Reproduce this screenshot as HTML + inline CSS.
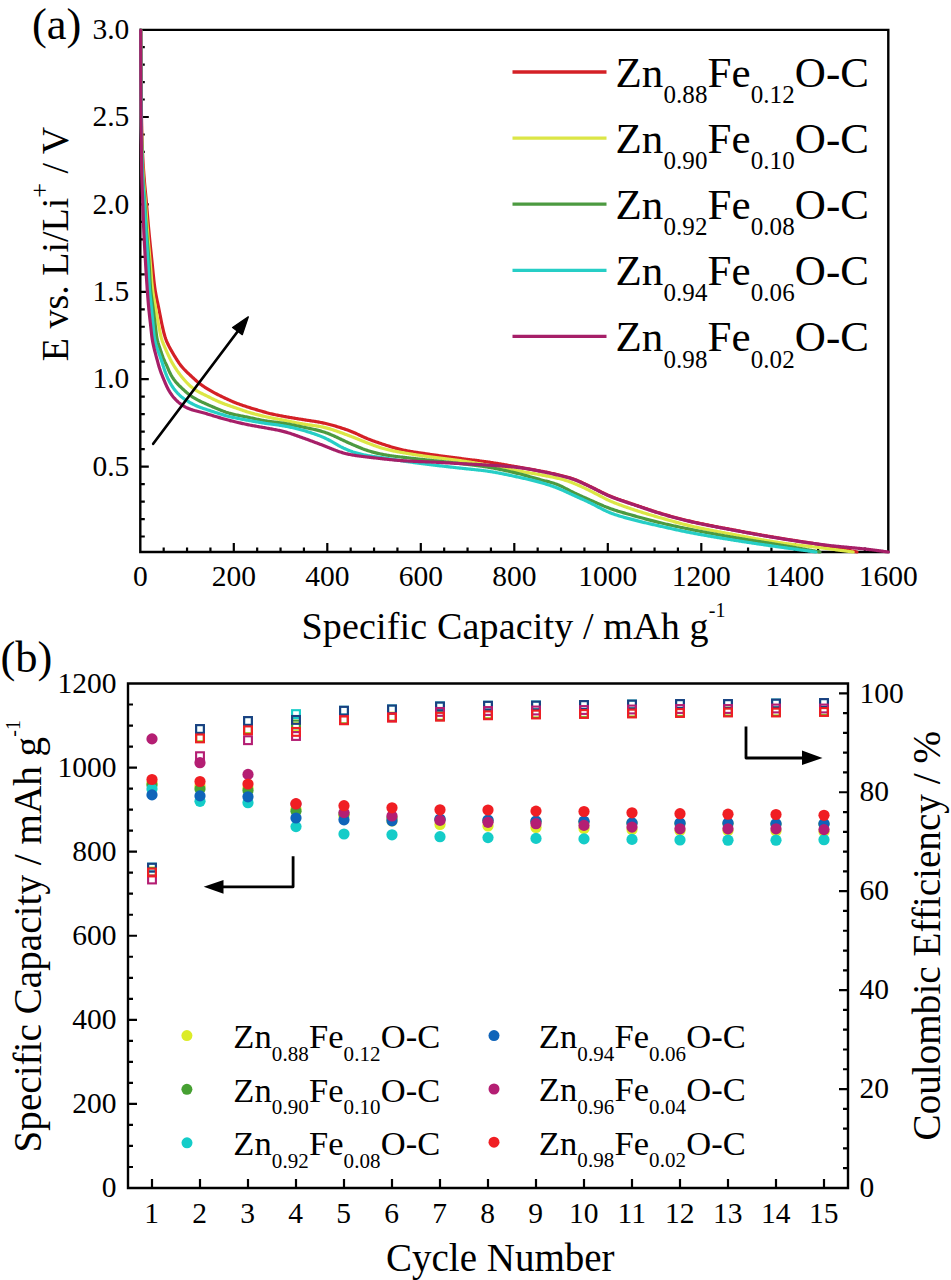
<!DOCTYPE html><html><head><meta charset="utf-8"><title>Figure</title><style>
html,body{margin:0;padding:0;background:#fff;}body{width:951px;height:1280px;overflow:hidden;}
svg{display:block;} text{font-family:"Liberation Serif", serif;fill:#000;}
</style></head><body>
<svg width="951" height="1280" viewBox="0 0 951 1280">
<rect width="951" height="1280" fill="#fff"/>
<path d="M140.3,29.9 H888.3 V552.0 H140.3 Z" stroke="#000" stroke-width="2.4" fill="none"/>
<path d="M140.3,536.52 h4.5 M140.3,519.04 h4.5 M140.3,501.56 h4.5 M140.3,484.08 h4.5 M140.3,466.60 h8.5 M140.3,449.12 h4.5 M140.3,431.64 h4.5 M140.3,414.16 h4.5 M140.3,396.68 h4.5 M140.3,379.20 h8.5 M140.3,361.72 h4.5 M140.3,344.24 h4.5 M140.3,326.76 h4.5 M140.3,309.28 h4.5 M140.3,291.80 h8.5 M140.3,274.32 h4.5 M140.3,256.84 h4.5 M140.3,239.36 h4.5 M140.3,221.88 h4.5 M140.3,204.40 h8.5 M140.3,186.92 h4.5 M140.3,169.44 h4.5 M140.3,151.96 h4.5 M140.3,134.48 h4.5 M140.3,117.00 h8.5 M140.3,99.52 h4.5 M140.3,82.04 h4.5 M140.3,64.56 h4.5 M140.3,47.08 h4.5 M163.68,552.0 v-4.5 M187.05,552.0 v-4.5 M210.43,552.0 v-4.5 M233.80,552.0 v-9.0 M257.18,552.0 v-4.5 M280.55,552.0 v-4.5 M303.93,552.0 v-4.5 M327.30,552.0 v-9.0 M350.68,552.0 v-4.5 M374.05,552.0 v-4.5 M397.43,552.0 v-4.5 M420.80,552.0 v-9.0 M444.18,552.0 v-4.5 M467.55,552.0 v-4.5 M490.93,552.0 v-4.5 M514.30,552.0 v-9.0 M537.67,552.0 v-4.5 M561.05,552.0 v-4.5 M584.42,552.0 v-4.5 M607.80,552.0 v-9.0 M631.17,552.0 v-4.5 M654.55,552.0 v-4.5 M677.92,552.0 v-4.5 M701.30,552.0 v-9.0 M724.67,552.0 v-4.5 M748.05,552.0 v-4.5 M771.42,552.0 v-4.5 M794.80,552.0 v-9.0 M818.17,552.0 v-4.5 M841.55,552.0 v-4.5 M864.92,552.0 v-4.5" stroke="#000" stroke-width="2.2" fill="none"/>
<path d="M140.70,30.00 L140.71,31.00 L140.71,32.00 L140.72,33.00 L140.73,34.00 L140.73,35.00 L140.74,36.00 L140.74,37.00 L140.75,38.00 L140.76,39.00 L140.76,40.00 L140.77,41.00 L140.77,42.00 L140.78,43.00 L140.78,44.00 L140.79,45.00 L140.79,46.00 L140.80,47.00 L140.80,48.00 L140.81,49.00 L140.81,50.00 L140.82,51.00 L140.82,52.00 L140.83,53.00 L140.83,54.00 L140.84,55.00 L140.84,56.00 L140.85,57.00 L140.85,58.00 L140.86,59.00 L140.86,60.00 L140.87,61.01 L140.87,62.01 L140.88,63.01 L140.88,64.01 L140.89,65.01 L140.89,66.01 L140.90,67.01 L140.90,68.01 L140.91,69.01 L140.91,70.01 L140.92,71.01 L140.92,72.01 L140.93,73.01 L140.94,74.01 L140.94,75.01 L140.95,76.01 L140.96,77.01 L140.96,78.01 L140.97,79.01 L140.98,80.01 L140.99,81.01 L140.99,82.01 L141.00,83.01 L141.01,84.01 L141.02,85.01 L141.03,86.01 L141.04,87.01 L141.05,88.01 L141.06,89.01 L141.07,90.01 L141.08,91.01 L141.09,92.01 L141.11,93.01 L141.12,94.01 L141.13,95.01 L141.14,96.01 L141.16,97.01 L141.17,98.01 L141.19,99.01 L141.20,100.01 L141.22,101.01 L141.23,102.01 L141.25,103.01 L141.26,104.01 L141.28,105.01 L141.29,106.01 L141.31,107.01 L141.33,108.01 L141.34,109.01 L141.36,110.01 L141.38,111.01 L141.40,112.01 L141.41,113.01 L141.43,114.01 L141.45,115.01 L141.47,116.01 L141.49,117.01 L141.51,118.01 L141.52,119.01 L141.54,120.01 L141.56,121.01 L141.58,122.01 L141.60,123.01 L141.62,124.01 L141.64,125.01 L141.67,126.01 L141.69,127.01 L141.71,128.01 L141.73,129.01 L141.76,130.01 L141.78,131.01 L141.81,132.01 L141.83,133.01 L141.86,134.01 L141.88,135.01 L141.91,136.01 L141.94,137.01 L141.97,138.01 L142.00,139.01 L142.03,140.01 L142.07,141.01 L142.10,142.01 L142.13,143.01 L142.17,144.01 L142.21,145.01 L142.25,146.01 L142.29,147.00 L142.33,148.00 L142.37,149.00 L142.41,150.00 L142.45,151.00 L142.50,152.00 L142.55,153.00 L142.59,154.00 L142.64,155.00 L142.70,156.00 L142.75,157.00 L142.80,157.99 L142.86,158.99 L142.91,159.99 L142.97,160.99 L143.03,161.99 L143.09,162.99 L143.16,163.98 L143.22,164.98 L143.28,165.98 L143.35,166.98 L143.42,167.98 L143.48,168.97 L143.55,169.97 L143.62,170.97 L143.70,171.97 L143.77,172.97 L143.84,173.96 L143.92,174.96 L143.99,175.96 L144.07,176.95 L144.15,177.95 L144.23,178.95 L144.31,179.95 L144.39,180.94 L144.47,181.94 L144.56,182.94 L144.65,183.93 L144.74,184.93 L144.83,185.92 L144.93,186.92 L145.02,187.92 L145.12,188.91 L145.22,189.91 L145.31,190.90 L145.41,191.90 L145.51,192.89 L145.61,193.89 L145.71,194.88 L145.80,195.88 L145.90,196.87 L145.99,197.87 L146.09,198.87 L146.18,199.86 L146.27,200.86 L146.36,201.85 L146.45,202.85 L146.53,203.85 L146.62,204.84 L146.71,205.84 L146.79,206.84 L146.88,207.83 L146.96,208.83 L147.04,209.83 L147.13,210.82 L147.21,211.82 L147.29,212.82 L147.38,213.81 L147.46,214.81 L147.55,215.81 L147.63,216.80 L147.71,217.80 L147.80,218.80 L147.88,219.79 L147.97,220.79 L148.05,221.78 L148.14,222.78 L148.23,223.78 L148.31,224.77 L148.40,225.77 L148.49,226.77 L148.58,227.76 L148.67,228.76 L148.76,229.75 L148.86,230.75 L148.95,231.75 L149.04,232.74 L149.14,233.74 L149.23,234.73 L149.33,235.73 L149.43,236.72 L149.52,237.72 L149.62,238.72 L149.72,239.71 L149.82,240.71 L149.92,241.70 L150.03,242.70 L150.13,243.69 L150.23,244.69 L150.33,245.68 L150.44,246.68 L150.54,247.67 L150.64,248.66 L150.75,249.66 L150.85,250.65 L150.95,251.65 L151.06,252.64 L151.16,253.64 L151.27,254.63 L151.37,255.63 L151.48,256.62 L151.58,257.62 L151.69,258.61 L151.79,259.61 L151.90,260.60 L152.00,261.60 L152.10,262.59 L152.20,263.59 L152.31,264.58 L152.41,265.58 L152.51,266.57 L152.60,267.57 L152.70,268.56 L152.80,269.56 L152.90,270.55 L152.99,271.55 L153.09,272.54 L153.19,273.54 L153.29,274.53 L153.39,275.53 L153.49,276.52 L153.59,277.52 L153.69,278.51 L153.80,279.51 L153.90,280.50 L154.02,281.50 L154.13,282.49 L154.25,283.48 L154.37,284.48 L154.50,285.47 L154.63,286.46 L154.77,287.45 L154.91,288.44 L155.06,289.43 L155.21,290.42 L155.37,291.40 L155.54,292.39 L155.71,293.37 L155.89,294.36 L156.07,295.34 L156.26,296.32 L156.46,297.30 L156.66,298.28 L156.86,299.26 L157.06,300.24 L157.27,301.22 L157.48,302.20 L157.69,303.18 L157.89,304.16 L158.10,305.13 L158.31,306.11 L158.51,307.09 L158.71,308.07 L158.91,309.05 L159.11,310.03 L159.30,311.01 L159.49,312.00 L159.68,312.98 L159.87,313.96 L160.06,314.94 L160.25,315.92 L160.44,316.91 L160.63,317.89 L160.82,318.87 L161.01,319.85 L161.21,320.83 L161.41,321.81 L161.61,322.79 L161.81,323.77 L162.02,324.75 L162.24,325.73 L162.45,326.70 L162.67,327.68 L162.90,328.65 L163.12,329.63 L163.36,330.60 L163.59,331.57 L163.84,332.54 L164.09,333.51 L164.35,334.47 L164.62,335.43 L164.90,336.39 L165.20,337.34 L165.52,338.29 L165.85,339.23 L166.21,340.16 L166.58,341.09 L166.97,342.01 L167.37,342.92 L167.79,343.83 L168.23,344.72 L168.68,345.62 L169.13,346.51 L169.60,347.39 L170.08,348.27 L170.56,349.15 L171.04,350.02 L171.53,350.89 L172.03,351.76 L172.53,352.63 L173.03,353.49 L173.54,354.35 L174.06,355.21 L174.58,356.06 L175.10,356.92 L175.62,357.77 L176.15,358.62 L176.68,359.46 L177.22,360.31 L177.76,361.15 L178.31,361.98 L178.86,362.81 L179.43,363.63 L180.01,364.44 L180.61,365.24 L181.23,366.03 L181.86,366.80 L182.51,367.56 L183.17,368.30 L183.85,369.03 L184.54,369.76 L185.24,370.47 L185.94,371.17 L186.66,371.87 L187.38,372.56 L188.11,373.25 L188.84,373.93 L189.57,374.61 L190.31,375.29 L191.04,375.97 L191.78,376.65 L192.51,377.33 L193.24,378.01 L193.98,378.69 L194.71,379.36 L195.45,380.04 L196.20,380.70 L196.95,381.36 L197.71,382.01 L198.47,382.65 L199.25,383.28 L200.04,383.89 L200.84,384.48 L201.65,385.07 L202.47,385.64 L203.29,386.21 L204.13,386.76 L204.96,387.31 L205.80,387.85 L206.65,388.38 L207.50,388.91 L208.35,389.43 L209.21,389.94 L210.07,390.45 L210.94,390.95 L211.81,391.44 L212.68,391.92 L213.56,392.39 L214.45,392.86 L215.33,393.33 L216.22,393.79 L217.11,394.25 L218.00,394.70 L218.89,395.15 L219.79,395.60 L220.68,396.04 L221.58,396.48 L222.48,396.92 L223.38,397.36 L224.28,397.79 L225.18,398.22 L226.09,398.65 L226.99,399.07 L227.90,399.49 L228.81,399.91 L229.72,400.32 L230.64,400.73 L231.55,401.13 L232.47,401.52 L233.39,401.91 L234.32,402.29 L235.25,402.66 L236.18,403.03 L237.11,403.39 L238.05,403.74 L238.98,404.08 L239.93,404.42 L240.87,404.75 L241.81,405.08 L242.76,405.40 L243.71,405.72 L244.66,406.03 L245.61,406.34 L246.56,406.65 L247.51,406.96 L248.46,407.26 L249.42,407.57 L250.37,407.86 L251.33,408.16 L252.28,408.45 L253.24,408.75 L254.20,409.03 L255.16,409.32 L256.11,409.61 L257.07,409.89 L258.03,410.18 L258.99,410.46 L259.95,410.74 L260.91,411.03 L261.87,411.31 L262.83,411.59 L263.79,411.87 L264.75,412.14 L265.71,412.41 L266.68,412.68 L267.64,412.94 L268.61,413.19 L269.58,413.44 L270.55,413.68 L271.52,413.91 L272.50,414.13 L273.47,414.35 L274.45,414.56 L275.43,414.76 L276.41,414.96 L277.39,415.16 L278.37,415.35 L279.35,415.54 L280.34,415.73 L281.32,415.91 L282.30,416.09 L283.29,416.28 L284.27,416.46 L285.25,416.63 L286.24,416.81 L287.22,416.98 L288.21,417.15 L289.20,417.32 L290.18,417.49 L291.17,417.66 L292.15,417.82 L293.14,417.99 L294.13,418.15 L295.11,418.31 L296.10,418.48 L297.09,418.64 L298.07,418.80 L299.06,418.96 L300.05,419.13 L301.04,419.29 L302.02,419.45 L303.01,419.61 L304.00,419.76 L304.99,419.92 L305.97,420.07 L306.96,420.22 L307.95,420.37 L308.94,420.52 L309.93,420.67 L310.92,420.81 L311.91,420.96 L312.90,421.11 L313.89,421.27 L314.87,421.42 L315.86,421.58 L316.85,421.74 L317.83,421.91 L318.82,422.09 L319.80,422.27 L320.78,422.46 L321.76,422.65 L322.74,422.85 L323.72,423.07 L324.70,423.28 L325.67,423.51 L326.64,423.74 L327.61,423.98 L328.58,424.23 L329.55,424.48 L330.52,424.73 L331.48,424.99 L332.45,425.26 L333.41,425.53 L334.37,425.80 L335.33,426.08 L336.29,426.37 L337.25,426.66 L338.20,426.95 L339.16,427.25 L340.11,427.55 L341.06,427.85 L342.02,428.16 L342.97,428.47 L343.91,428.79 L344.86,429.11 L345.81,429.44 L346.75,429.77 L347.69,430.11 L348.63,430.45 L349.56,430.81 L350.50,431.17 L351.43,431.53 L352.35,431.91 L353.28,432.29 L354.19,432.69 L355.11,433.09 L356.02,433.50 L356.93,433.92 L357.84,434.34 L358.74,434.77 L359.65,435.19 L360.55,435.62 L361.45,436.04 L362.36,436.47 L363.27,436.88 L364.18,437.29 L365.10,437.70 L366.01,438.09 L366.94,438.48 L367.86,438.86 L368.79,439.23 L369.72,439.60 L370.65,439.96 L371.59,440.31 L372.53,440.65 L373.47,440.99 L374.41,441.33 L375.35,441.66 L376.30,441.99 L377.24,442.32 L378.19,442.64 L379.14,442.96 L380.09,443.27 L381.04,443.59 L381.98,443.90 L382.93,444.22 L383.89,444.53 L384.84,444.84 L385.79,445.15 L386.74,445.46 L387.69,445.77 L388.64,446.07 L389.59,446.38 L390.55,446.68 L391.50,446.97 L392.46,447.27 L393.42,447.55 L394.38,447.84 L395.34,448.11 L396.30,448.38 L397.27,448.64 L398.23,448.89 L399.20,449.14 L400.17,449.37 L401.15,449.60 L402.12,449.82 L403.10,450.03 L404.08,450.24 L405.06,450.43 L406.04,450.63 L407.02,450.81 L408.01,450.99 L408.99,451.16 L409.98,451.33 L410.96,451.50 L411.95,451.66 L412.94,451.82 L413.93,451.97 L414.91,452.12 L415.90,452.27 L416.89,452.42 L417.88,452.57 L418.87,452.72 L419.86,452.86 L420.85,453.01 L421.84,453.15 L422.83,453.30 L423.82,453.45 L424.81,453.59 L425.80,453.74 L426.79,453.88 L427.78,454.03 L428.77,454.17 L429.76,454.32 L430.75,454.46 L431.74,454.60 L432.73,454.74 L433.72,454.88 L434.71,455.02 L435.70,455.16 L436.69,455.30 L437.68,455.44 L438.67,455.57 L439.66,455.71 L440.65,455.84 L441.64,455.97 L442.63,456.11 L443.63,456.24 L444.62,456.37 L445.61,456.50 L446.60,456.63 L447.59,456.76 L448.58,456.89 L449.58,457.03 L450.57,457.16 L451.56,457.29 L452.55,457.42 L453.54,457.55 L454.53,457.68 L455.52,457.81 L456.52,457.94 L457.51,458.07 L458.50,458.20 L459.49,458.33 L460.48,458.46 L461.47,458.59 L462.47,458.72 L463.46,458.85 L464.45,458.97 L465.44,459.10 L466.44,459.22 L467.43,459.35 L468.42,459.47 L469.41,459.60 L470.41,459.72 L471.40,459.84 L472.39,459.97 L473.38,460.09 L474.38,460.21 L475.37,460.34 L476.36,460.46 L477.35,460.59 L478.34,460.71 L479.34,460.84 L480.33,460.97 L481.32,461.10 L482.31,461.23 L483.30,461.36 L484.29,461.50 L485.28,461.64 L486.28,461.77 L487.27,461.91 L488.26,462.06 L489.24,462.20 L490.23,462.35 L491.22,462.50 L492.21,462.65 L493.20,462.81 L494.19,462.96 L495.18,463.12 L496.16,463.28 L497.15,463.44 L498.14,463.60 L499.12,463.77 L500.11,463.93 L501.10,464.10 L502.08,464.27 L503.07,464.44 L504.05,464.61 L505.04,464.78 L506.02,464.95 L507.01,465.12 L507.99,465.29 L508.98,465.46 L509.96,465.64 L510.95,465.81 L511.93,465.98 L512.92,466.16 L513.90,466.33 L514.89,466.50 L515.88,466.68 L516.86,466.85 L517.85,467.02 L518.83,467.19 L519.82,467.36 L520.80,467.53 L521.79,467.70 L522.77,467.87 L523.76,468.04 L524.75,468.21 L525.73,468.38 L526.72,468.54 L527.70,468.71 L528.69,468.88 L529.68,469.05 L530.66,469.22 L531.65,469.39 L532.63,469.56 L533.62,469.74 L534.60,469.91 L535.59,470.09 L536.57,470.27 L537.55,470.45 L538.54,470.64 L539.52,470.82 L540.50,471.01 L541.48,471.20 L542.46,471.40 L543.44,471.59 L544.42,471.79 L545.40,471.99 L546.38,472.19 L547.36,472.40 L548.34,472.60 L549.32,472.81 L550.30,473.03 L551.27,473.24 L552.25,473.46 L553.22,473.68 L554.20,473.90 L555.17,474.13 L556.15,474.36 L557.12,474.58 L558.10,474.81 L559.07,475.04 L560.04,475.28 L561.01,475.51 L561.99,475.74 L562.96,475.98 L563.93,476.22 L564.90,476.47 L565.86,476.72 L566.83,476.98 L567.79,477.25 L568.75,477.53 L569.71,477.81 L570.67,478.10 L571.62,478.41 L572.57,478.73 L573.51,479.06 L574.45,479.40 L575.38,479.75 L576.31,480.11 L577.24,480.49 L578.16,480.87 L579.08,481.26 L580.00,481.67 L580.91,482.07 L581.82,482.49 L582.73,482.91 L583.63,483.33 L584.54,483.76 L585.44,484.19 L586.35,484.62 L587.25,485.05 L588.15,485.48 L589.05,485.91 L589.95,486.35 L590.85,486.78 L591.75,487.22 L592.65,487.66 L593.55,488.11 L594.44,488.55 L595.34,489.00 L596.23,489.45 L597.12,489.90 L598.01,490.35 L598.91,490.80 L599.80,491.25 L600.69,491.70 L601.59,492.15 L602.48,492.59 L603.38,493.03 L604.28,493.47 L605.19,493.90 L606.09,494.32 L607.00,494.73 L607.91,495.14 L608.83,495.54 L609.75,495.94 L610.67,496.32 L611.60,496.70 L612.53,497.07 L613.46,497.43 L614.39,497.79 L615.33,498.14 L616.27,498.49 L617.21,498.83 L618.15,499.17 L619.09,499.50 L620.04,499.83 L620.98,500.15 L621.93,500.48 L622.87,500.80 L623.82,501.12 L624.77,501.43 L625.72,501.75 L626.67,502.06 L627.62,502.38 L628.57,502.69 L629.52,503.01 L630.47,503.32 L631.41,503.64 L632.36,503.96 L633.31,504.28 L634.26,504.59 L635.21,504.91 L636.15,505.23 L637.10,505.56 L638.05,505.88 L638.99,506.20 L639.94,506.53 L640.89,506.85 L641.83,507.18 L642.78,507.50 L643.73,507.83 L644.67,508.15 L645.62,508.47 L646.57,508.79 L647.51,509.11 L648.46,509.43 L649.41,509.75 L650.36,510.07 L651.31,510.38 L652.26,510.69 L653.21,511.00 L654.16,511.31 L655.11,511.61 L656.07,511.92 L657.02,512.22 L657.98,512.51 L658.93,512.81 L659.89,513.10 L660.85,513.39 L661.80,513.68 L662.76,513.96 L663.72,514.25 L664.68,514.53 L665.64,514.81 L666.60,515.08 L667.56,515.36 L668.53,515.63 L669.49,515.91 L670.45,516.18 L671.41,516.44 L672.38,516.71 L673.34,516.97 L674.31,517.24 L675.27,517.50 L676.24,517.75 L677.21,518.01 L678.17,518.26 L679.14,518.51 L680.11,518.76 L681.08,519.01 L682.05,519.26 L683.02,519.50 L683.99,519.74 L684.96,519.98 L685.93,520.22 L686.91,520.45 L687.88,520.69 L688.85,520.92 L689.83,521.14 L690.80,521.37 L691.77,521.59 L692.75,521.82 L693.73,522.04 L694.70,522.25 L695.68,522.47 L696.66,522.68 L697.63,522.89 L698.61,523.10 L699.59,523.31 L700.57,523.51 L701.55,523.72 L702.53,523.92 L703.51,524.12 L704.49,524.32 L705.47,524.52 L706.45,524.72 L707.43,524.91 L708.41,525.11 L709.39,525.30 L710.37,525.50 L711.35,525.69 L712.33,525.88 L713.32,526.07 L714.30,526.26 L715.28,526.45 L716.26,526.64 L717.25,526.83 L718.23,527.01 L719.21,527.20 L720.19,527.39 L721.18,527.57 L722.16,527.76 L723.14,527.95 L724.12,528.13 L725.11,528.32 L726.09,528.50 L727.07,528.69 L728.05,528.87 L729.04,529.06 L730.02,529.25 L731.00,529.43 L731.99,529.62 L732.97,529.80 L733.95,529.99 L734.93,530.18 L735.92,530.36 L736.90,530.55 L737.88,530.73 L738.87,530.92 L739.85,531.10 L740.83,531.28 L741.82,531.47 L742.80,531.65 L743.78,531.83 L744.77,532.01 L745.75,532.20 L746.73,532.38 L747.72,532.56 L748.70,532.74 L749.68,532.92 L750.67,533.10 L751.65,533.28 L752.64,533.45 L753.62,533.63 L754.60,533.81 L755.59,533.99 L756.57,534.16 L757.56,534.34 L758.54,534.51 L759.53,534.69 L760.51,534.86 L761.50,535.04 L762.48,535.21 L763.47,535.38 L764.45,535.56 L765.44,535.73 L766.42,535.90 L767.41,536.07 L768.39,536.24 L769.38,536.42 L770.36,536.59 L771.35,536.76 L772.34,536.93 L773.32,537.10 L774.31,537.27 L775.29,537.43 L776.28,537.60 L777.27,537.77 L778.25,537.93 L779.24,538.10 L780.22,538.26 L781.21,538.43 L782.20,538.59 L783.19,538.75 L784.17,538.91 L785.16,539.06 L786.15,539.22 L787.14,539.38 L788.12,539.53 L789.11,539.69 L790.10,539.84 L791.09,539.99 L792.08,540.15 L793.07,540.30 L794.06,540.45 L795.04,540.60 L796.03,540.75 L797.02,540.90 L798.01,541.06 L799.00,541.21 L799.99,541.36 L800.98,541.51 L801.96,541.66 L802.95,541.81 L803.94,541.96 L804.93,542.11 L805.92,542.27 L806.91,542.42 L807.90,542.58 L808.88,542.73 L809.87,542.89 L810.86,543.04 L811.85,543.20 L812.83,543.36 L813.82,543.52 L814.81,543.69 L815.79,543.85 L816.78,544.02 L817.77,544.18 L818.75,544.35 L819.74,544.53 L820.72,544.70 L821.71,544.87 L822.69,545.05 L823.68,545.23 L824.66,545.41 L825.64,545.59 L826.63,545.78 L827.61,545.97 L828.59,546.15 L829.57,546.35 L830.55,546.54 L831.54,546.73 L832.52,546.93 L833.50,547.12 L834.48,547.32 L835.46,547.52 L836.44,547.72 L837.42,547.92 L838.40,548.12 L839.38,548.33 L840.35,548.53 L841.33,548.73 L842.31,548.94 L843.29,549.14 L844.27,549.35 L845.25,549.55 L846.23,549.76 L847.21,549.96 L848.19,550.17 L849.17,550.37 L850.14,550.58 L851.12,550.78 L852.10,550.99 L853.08,551.19 L854.06,551.39 L855.04,551.60 L856.02,551.80 L857.00,552.00" fill="none" stroke="#D42026" stroke-width="3.2" stroke-linejoin="round" stroke-linecap="round"/>
<path d="M140.70,30.00 L140.71,31.00 L140.71,32.00 L140.72,33.00 L140.72,34.00 L140.73,35.00 L140.73,36.00 L140.74,37.00 L140.74,38.00 L140.75,39.01 L140.75,40.01 L140.75,41.01 L140.76,42.01 L140.76,43.01 L140.77,44.01 L140.77,45.01 L140.77,46.01 L140.78,47.01 L140.78,48.01 L140.79,49.01 L140.79,50.01 L140.80,51.01 L140.80,52.01 L140.80,53.01 L140.81,54.01 L140.81,55.02 L140.82,56.02 L140.82,57.02 L140.82,58.02 L140.83,59.02 L140.83,60.02 L140.83,61.02 L140.84,62.02 L140.84,63.02 L140.85,64.02 L140.85,65.02 L140.85,66.02 L140.86,67.02 L140.86,68.02 L140.87,69.02 L140.87,70.02 L140.88,71.03 L140.88,72.03 L140.89,73.03 L140.89,74.03 L140.90,75.03 L140.90,76.03 L140.91,77.03 L140.92,78.03 L140.92,79.03 L140.93,80.03 L140.93,81.03 L140.94,82.03 L140.95,83.03 L140.96,84.03 L140.96,85.03 L140.97,86.03 L140.98,87.04 L140.99,88.04 L140.99,89.04 L141.00,90.04 L141.01,91.04 L141.02,92.04 L141.03,93.04 L141.04,94.04 L141.05,95.04 L141.06,96.04 L141.07,97.04 L141.08,98.04 L141.09,99.04 L141.10,100.04 L141.11,101.04 L141.12,102.04 L141.14,103.04 L141.15,104.05 L141.16,105.05 L141.17,106.05 L141.18,107.05 L141.20,108.05 L141.21,109.05 L141.22,110.05 L141.23,111.05 L141.25,112.05 L141.26,113.05 L141.27,114.05 L141.28,115.05 L141.30,116.05 L141.31,117.05 L141.32,118.05 L141.34,119.05 L141.35,120.05 L141.37,121.05 L141.38,122.06 L141.40,123.06 L141.41,124.06 L141.43,125.06 L141.44,126.06 L141.46,127.06 L141.48,128.06 L141.49,129.06 L141.51,130.06 L141.53,131.06 L141.55,132.06 L141.57,133.06 L141.59,134.06 L141.61,135.06 L141.63,136.06 L141.65,137.06 L141.67,138.06 L141.70,139.06 L141.72,140.06 L141.75,141.06 L141.77,142.06 L141.80,143.06 L141.83,144.06 L141.85,145.06 L141.88,146.06 L141.91,147.07 L141.94,148.07 L141.98,149.07 L142.01,150.07 L142.04,151.07 L142.08,152.07 L142.11,153.07 L142.15,154.07 L142.19,155.07 L142.23,156.07 L142.27,157.06 L142.31,158.06 L142.35,159.06 L142.40,160.06 L142.44,161.06 L142.49,162.06 L142.53,163.06 L142.58,164.06 L142.63,165.06 L142.68,166.06 L142.73,167.06 L142.79,168.06 L142.84,169.06 L142.90,170.06 L142.95,171.06 L143.01,172.06 L143.07,173.05 L143.13,174.05 L143.19,175.05 L143.25,176.05 L143.31,177.05 L143.38,178.05 L143.45,179.05 L143.52,180.04 L143.59,181.04 L143.66,182.04 L143.74,183.04 L143.82,184.04 L143.90,185.03 L143.98,186.03 L144.06,187.03 L144.15,188.02 L144.24,189.02 L144.32,190.02 L144.41,191.01 L144.50,192.01 L144.59,193.01 L144.68,194.00 L144.77,195.00 L144.85,196.00 L144.94,197.00 L145.02,197.99 L145.11,198.99 L145.19,199.99 L145.27,200.98 L145.35,201.98 L145.42,202.98 L145.50,203.98 L145.58,204.97 L145.65,205.97 L145.73,206.97 L145.80,207.97 L145.87,208.97 L145.94,209.96 L146.02,210.96 L146.09,211.96 L146.16,212.96 L146.23,213.96 L146.30,214.95 L146.37,215.95 L146.45,216.95 L146.52,217.95 L146.59,218.95 L146.66,219.94 L146.74,220.94 L146.81,221.94 L146.88,222.94 L146.96,223.94 L147.03,224.93 L147.11,225.93 L147.18,226.93 L147.26,227.93 L147.34,228.92 L147.42,229.92 L147.50,230.92 L147.58,231.92 L147.66,232.91 L147.74,233.91 L147.83,234.91 L147.91,235.91 L147.99,236.90 L148.08,237.90 L148.16,238.90 L148.25,239.89 L148.34,240.89 L148.43,241.89 L148.51,242.88 L148.60,243.88 L148.69,244.88 L148.78,245.87 L148.86,246.87 L148.95,247.87 L149.04,248.87 L149.13,249.86 L149.22,250.86 L149.31,251.86 L149.40,252.85 L149.48,253.85 L149.57,254.85 L149.66,255.84 L149.75,256.84 L149.84,257.84 L149.92,258.83 L150.01,259.83 L150.09,260.83 L150.18,261.82 L150.26,262.82 L150.34,263.82 L150.42,264.82 L150.50,265.81 L150.58,266.81 L150.66,267.81 L150.74,268.81 L150.81,269.80 L150.89,270.80 L150.96,271.80 L151.04,272.80 L151.11,273.79 L151.19,274.79 L151.27,275.79 L151.34,276.79 L151.42,277.78 L151.50,278.78 L151.59,279.78 L151.67,280.78 L151.76,281.77 L151.85,282.77 L151.95,283.77 L152.04,284.76 L152.15,285.76 L152.25,286.75 L152.37,287.75 L152.48,288.74 L152.60,289.73 L152.73,290.72 L152.87,291.72 L153.01,292.71 L153.15,293.70 L153.30,294.68 L153.46,295.67 L153.62,296.66 L153.79,297.65 L153.95,298.63 L154.13,299.62 L154.30,300.60 L154.48,301.59 L154.66,302.57 L154.83,303.56 L155.01,304.54 L155.19,305.53 L155.37,306.51 L155.54,307.50 L155.72,308.48 L155.89,309.47 L156.06,310.45 L156.23,311.44 L156.40,312.43 L156.57,313.41 L156.74,314.40 L156.91,315.38 L157.08,316.37 L157.25,317.36 L157.43,318.34 L157.60,319.33 L157.77,320.31 L157.95,321.30 L158.13,322.28 L158.31,323.27 L158.49,324.25 L158.67,325.24 L158.85,326.22 L159.04,327.20 L159.22,328.19 L159.41,329.17 L159.60,330.15 L159.79,331.13 L159.98,332.11 L160.18,333.09 L160.39,334.07 L160.61,335.05 L160.84,336.02 L161.08,336.99 L161.33,337.96 L161.61,338.92 L161.90,339.87 L162.21,340.82 L162.54,341.76 L162.88,342.70 L163.24,343.63 L163.62,344.56 L164.00,345.48 L164.40,346.40 L164.80,347.32 L165.20,348.23 L165.61,349.15 L166.02,350.06 L166.43,350.97 L166.84,351.89 L167.25,352.80 L167.66,353.71 L168.08,354.62 L168.50,355.53 L168.92,356.43 L169.35,357.34 L169.79,358.23 L170.23,359.13 L170.69,360.02 L171.15,360.91 L171.63,361.79 L172.11,362.66 L172.61,363.53 L173.11,364.39 L173.63,365.25 L174.15,366.10 L174.69,366.94 L175.23,367.78 L175.78,368.62 L176.34,369.45 L176.90,370.28 L177.47,371.10 L178.05,371.91 L178.63,372.73 L179.22,373.53 L179.82,374.34 L180.43,375.13 L181.04,375.92 L181.66,376.71 L182.28,377.49 L182.92,378.26 L183.56,379.03 L184.20,379.79 L184.86,380.55 L185.53,381.29 L186.20,382.03 L186.89,382.76 L187.58,383.48 L188.29,384.18 L189.01,384.87 L189.74,385.55 L190.49,386.21 L191.25,386.86 L192.02,387.48 L192.81,388.09 L193.62,388.68 L194.43,389.26 L195.26,389.81 L196.10,390.36 L196.95,390.88 L197.81,391.39 L198.68,391.88 L199.55,392.36 L200.44,392.83 L201.33,393.28 L202.22,393.73 L203.12,394.17 L204.02,394.60 L204.92,395.03 L205.82,395.47 L206.72,395.91 L207.62,396.35 L208.51,396.80 L209.41,397.24 L210.30,397.69 L211.20,398.13 L212.10,398.57 L213.00,399.01 L213.90,399.44 L214.81,399.86 L215.71,400.28 L216.62,400.70 L217.54,401.11 L218.45,401.51 L219.37,401.91 L220.29,402.30 L221.22,402.68 L222.14,403.06 L223.07,403.43 L224.01,403.79 L224.94,404.14 L225.88,404.49 L226.82,404.83 L227.76,405.16 L228.71,405.49 L229.65,405.82 L230.60,406.15 L231.55,406.47 L232.49,406.79 L233.44,407.11 L234.39,407.44 L235.33,407.77 L236.28,408.10 L237.22,408.43 L238.17,408.76 L239.11,409.09 L240.05,409.42 L241.00,409.75 L241.94,410.08 L242.89,410.41 L243.83,410.73 L244.78,411.05 L245.73,411.36 L246.68,411.67 L247.64,411.97 L248.59,412.27 L249.55,412.56 L250.51,412.84 L251.47,413.11 L252.44,413.39 L253.40,413.65 L254.37,413.91 L255.33,414.17 L256.30,414.42 L257.27,414.67 L258.24,414.92 L259.21,415.16 L260.18,415.40 L261.16,415.63 L262.13,415.86 L263.10,416.09 L264.08,416.31 L265.05,416.53 L266.03,416.75 L267.01,416.96 L267.99,417.17 L268.97,417.37 L269.95,417.57 L270.93,417.76 L271.91,417.96 L272.89,418.15 L273.88,418.34 L274.86,418.52 L275.84,418.71 L276.83,418.89 L277.81,419.07 L278.80,419.25 L279.78,419.44 L280.76,419.62 L281.75,419.80 L282.73,419.99 L283.71,420.18 L284.69,420.37 L285.68,420.56 L286.66,420.76 L287.64,420.96 L288.62,421.15 L289.60,421.35 L290.58,421.56 L291.56,421.76 L292.54,421.96 L293.52,422.16 L294.50,422.36 L295.48,422.56 L296.46,422.75 L297.44,422.95 L298.43,423.14 L299.41,423.33 L300.39,423.51 L301.38,423.69 L302.36,423.87 L303.35,424.03 L304.33,424.20 L305.32,424.36 L306.31,424.51 L307.30,424.65 L308.29,424.80 L309.28,424.93 L310.27,425.07 L311.27,425.20 L312.26,425.34 L313.25,425.47 L314.24,425.61 L315.23,425.75 L316.22,425.89 L317.21,426.05 L318.20,426.20 L319.18,426.37 L320.17,426.55 L321.15,426.74 L322.13,426.93 L323.11,427.14 L324.08,427.36 L325.05,427.59 L326.02,427.84 L326.99,428.09 L327.96,428.35 L328.92,428.63 L329.88,428.91 L330.84,429.20 L331.79,429.50 L332.74,429.80 L333.69,430.11 L334.64,430.43 L335.59,430.75 L336.54,431.07 L337.48,431.40 L338.42,431.74 L339.37,432.08 L340.31,432.42 L341.25,432.76 L342.19,433.10 L343.13,433.45 L344.06,433.80 L345.00,434.15 L345.94,434.50 L346.88,434.85 L347.81,435.20 L348.75,435.55 L349.69,435.90 L350.62,436.26 L351.56,436.62 L352.49,436.98 L353.42,437.34 L354.35,437.71 L355.28,438.07 L356.21,438.45 L357.14,438.82 L358.07,439.20 L358.99,439.57 L359.92,439.95 L360.85,440.33 L361.78,440.70 L362.70,441.08 L363.63,441.45 L364.56,441.82 L365.49,442.18 L366.43,442.55 L367.36,442.91 L368.29,443.27 L369.23,443.63 L370.16,443.98 L371.10,444.34 L372.03,444.69 L372.97,445.04 L373.91,445.39 L374.85,445.74 L375.79,446.08 L376.73,446.41 L377.67,446.74 L378.62,447.06 L379.57,447.38 L380.52,447.68 L381.48,447.98 L382.44,448.26 L383.40,448.54 L384.36,448.81 L385.33,449.06 L386.30,449.31 L387.27,449.56 L388.24,449.79 L389.21,450.02 L390.19,450.24 L391.17,450.45 L392.15,450.66 L393.13,450.86 L394.11,451.06 L395.09,451.25 L396.07,451.44 L397.05,451.63 L398.04,451.81 L399.02,451.99 L400.01,452.17 L400.99,452.35 L401.98,452.52 L402.96,452.69 L403.95,452.87 L404.93,453.04 L405.92,453.21 L406.91,453.37 L407.89,453.54 L408.88,453.71 L409.87,453.87 L410.85,454.03 L411.84,454.19 L412.83,454.35 L413.82,454.51 L414.81,454.66 L415.80,454.82 L416.78,454.97 L417.77,455.12 L418.76,455.26 L419.75,455.41 L420.74,455.55 L421.73,455.69 L422.73,455.83 L423.72,455.97 L424.71,456.11 L425.70,456.25 L426.69,456.38 L427.68,456.52 L428.67,456.65 L429.66,456.79 L430.66,456.92 L431.65,457.05 L432.64,457.18 L433.63,457.31 L434.62,457.44 L435.62,457.57 L436.61,457.70 L437.60,457.82 L438.59,457.95 L439.59,458.07 L440.58,458.19 L441.57,458.32 L442.57,458.43 L443.56,458.55 L444.55,458.67 L445.55,458.79 L446.54,458.90 L447.54,459.02 L448.53,459.14 L449.52,459.26 L450.52,459.38 L451.51,459.50 L452.50,459.62 L453.50,459.75 L454.49,459.87 L455.48,460.00 L456.47,460.13 L457.46,460.26 L458.46,460.40 L459.45,460.54 L460.44,460.68 L461.43,460.82 L462.42,460.97 L463.41,461.11 L464.40,461.26 L465.39,461.41 L466.38,461.56 L467.36,461.71 L468.35,461.87 L469.34,462.02 L470.33,462.18 L471.32,462.34 L472.31,462.50 L473.29,462.66 L474.28,462.82 L475.27,462.98 L476.26,463.14 L477.24,463.31 L478.23,463.47 L479.22,463.64 L480.20,463.80 L481.19,463.97 L482.18,464.14 L483.16,464.31 L484.15,464.48 L485.13,464.65 L486.12,464.82 L487.11,465.00 L488.09,465.17 L489.08,465.34 L490.06,465.52 L491.05,465.70 L492.03,465.87 L493.02,466.05 L494.00,466.23 L494.98,466.42 L495.97,466.60 L496.95,466.78 L497.93,466.97 L498.92,467.16 L499.90,467.34 L500.88,467.53 L501.87,467.72 L502.85,467.91 L503.83,468.10 L504.81,468.29 L505.80,468.48 L506.78,468.67 L507.76,468.86 L508.74,469.05 L509.72,469.24 L510.71,469.43 L511.69,469.62 L512.67,469.81 L513.65,470.00 L514.64,470.19 L515.62,470.38 L516.60,470.56 L517.59,470.74 L518.57,470.93 L519.56,471.11 L520.54,471.28 L521.53,471.46 L522.51,471.64 L523.50,471.81 L524.48,471.98 L525.47,472.15 L526.45,472.32 L527.44,472.49 L528.43,472.65 L529.41,472.82 L530.40,472.99 L531.39,473.16 L532.37,473.33 L533.36,473.50 L534.34,473.67 L535.33,473.85 L536.31,474.02 L537.30,474.20 L538.28,474.39 L539.27,474.57 L540.25,474.75 L541.23,474.94 L542.22,475.13 L543.20,475.32 L544.18,475.51 L545.16,475.69 L546.15,475.88 L547.13,476.07 L548.11,476.27 L549.09,476.46 L550.07,476.65 L551.06,476.85 L552.04,477.05 L553.02,477.25 L553.99,477.46 L554.97,477.67 L555.95,477.88 L556.93,478.10 L557.90,478.32 L558.87,478.56 L559.85,478.79 L560.82,479.04 L561.78,479.29 L562.75,479.56 L563.71,479.83 L564.67,480.11 L565.62,480.41 L566.58,480.71 L567.53,481.02 L568.47,481.35 L569.42,481.68 L570.36,482.02 L571.29,482.37 L572.22,482.73 L573.16,483.10 L574.08,483.48 L575.01,483.86 L575.93,484.24 L576.85,484.64 L577.77,485.03 L578.68,485.44 L579.60,485.84 L580.51,486.25 L581.42,486.66 L582.33,487.08 L583.24,487.50 L584.15,487.92 L585.05,488.35 L585.96,488.78 L586.86,489.22 L587.76,489.66 L588.65,490.10 L589.55,490.54 L590.44,490.99 L591.34,491.44 L592.23,491.89 L593.12,492.35 L594.01,492.80 L594.90,493.26 L595.79,493.72 L596.68,494.17 L597.57,494.63 L598.46,495.09 L599.35,495.56 L600.23,496.02 L601.12,496.48 L602.01,496.95 L602.89,497.42 L603.78,497.88 L604.67,498.34 L605.56,498.80 L606.45,499.25 L607.35,499.69 L608.25,500.12 L609.16,500.54 L610.07,500.95 L610.98,501.36 L611.90,501.75 L612.82,502.14 L613.75,502.52 L614.68,502.89 L615.61,503.26 L616.54,503.62 L617.47,503.97 L618.41,504.33 L619.35,504.68 L620.29,505.02 L621.23,505.37 L622.17,505.71 L623.11,506.04 L624.05,506.38 L625.00,506.71 L625.94,507.04 L626.89,507.37 L627.83,507.70 L628.78,508.02 L629.72,508.35 L630.67,508.67 L631.62,508.99 L632.57,509.31 L633.52,509.63 L634.47,509.94 L635.42,510.26 L636.37,510.57 L637.32,510.88 L638.27,511.19 L639.22,511.49 L640.18,511.79 L641.13,512.09 L642.09,512.39 L643.04,512.69 L644.00,512.98 L644.96,513.27 L645.92,513.56 L646.87,513.85 L647.83,514.13 L648.79,514.42 L649.75,514.70 L650.71,514.98 L651.67,515.26 L652.63,515.54 L653.60,515.82 L654.56,516.10 L655.52,516.37 L656.48,516.65 L657.44,516.93 L658.40,517.20 L659.37,517.48 L660.33,517.75 L661.29,518.03 L662.25,518.30 L663.21,518.58 L664.17,518.86 L665.14,519.13 L666.10,519.41 L667.06,519.68 L668.02,519.96 L668.99,520.23 L669.95,520.50 L670.91,520.77 L671.87,521.05 L672.84,521.32 L673.80,521.59 L674.77,521.85 L675.73,522.12 L676.70,522.38 L677.66,522.65 L678.63,522.91 L679.59,523.17 L680.56,523.42 L681.53,523.68 L682.50,523.93 L683.47,524.18 L684.44,524.42 L685.41,524.67 L686.38,524.91 L687.35,525.15 L688.32,525.38 L689.29,525.61 L690.27,525.84 L691.24,526.07 L692.22,526.29 L693.19,526.52 L694.17,526.74 L695.15,526.95 L696.12,527.17 L697.10,527.38 L698.08,527.59 L699.06,527.80 L700.04,528.01 L701.02,528.22 L702.00,528.42 L702.98,528.62 L703.96,528.82 L704.94,529.02 L705.92,529.22 L706.90,529.42 L707.88,529.62 L708.86,529.81 L709.84,530.00 L710.82,530.20 L711.81,530.39 L712.79,530.58 L713.77,530.77 L714.75,530.96 L715.74,531.15 L716.72,531.34 L717.70,531.53 L718.68,531.71 L719.67,531.90 L720.65,532.09 L721.63,532.27 L722.62,532.46 L723.60,532.64 L724.58,532.83 L725.57,533.01 L726.55,533.20 L727.53,533.38 L728.52,533.57 L729.50,533.75 L730.48,533.94 L731.47,534.12 L732.45,534.31 L733.43,534.49 L734.42,534.68 L735.40,534.86 L736.38,535.05 L737.37,535.23 L738.35,535.42 L739.33,535.61 L740.32,535.79 L741.30,535.98 L742.28,536.16 L743.27,536.35 L744.25,536.53 L745.23,536.71 L746.22,536.90 L747.20,537.08 L748.19,537.26 L749.17,537.45 L750.15,537.63 L751.14,537.81 L752.12,537.99 L753.11,538.17 L754.09,538.35 L755.07,538.53 L756.06,538.71 L757.04,538.89 L758.03,539.07 L759.01,539.24 L760.00,539.42 L760.98,539.59 L761.97,539.76 L762.96,539.93 L763.94,540.10 L764.93,540.27 L765.91,540.44 L766.90,540.61 L767.89,540.77 L768.87,540.94 L769.86,541.10 L770.85,541.26 L771.84,541.42 L772.83,541.58 L773.81,541.74 L774.80,541.89 L775.79,542.05 L776.78,542.20 L777.77,542.35 L778.76,542.50 L779.75,542.65 L780.74,542.79 L781.73,542.93 L782.72,543.08 L783.71,543.22 L784.70,543.35 L785.69,543.49 L786.68,543.62 L787.68,543.75 L788.67,543.89 L789.66,544.01 L790.65,544.14 L791.65,544.27 L792.64,544.39 L793.63,544.52 L794.62,544.64 L795.62,544.76 L796.61,544.89 L797.60,545.01 L798.60,545.13 L799.59,545.25 L800.58,545.37 L801.58,545.49 L802.57,545.61 L803.56,545.72 L804.56,545.84 L805.55,545.96 L806.55,546.08 L807.54,546.19 L808.53,546.31 L809.53,546.43 L810.52,546.55 L811.51,546.66 L812.51,546.78 L813.50,546.90 L814.49,547.02 L815.49,547.14 L816.48,547.26 L817.47,547.38 L818.47,547.50 L819.46,547.62 L820.45,547.75 L821.45,547.87 L822.44,548.00 L823.43,548.12 L824.43,548.25 L825.42,548.38 L826.41,548.50 L827.40,548.63 L828.40,548.76 L829.39,548.89 L830.38,549.02 L831.37,549.15 L832.36,549.28 L833.36,549.40 L834.35,549.53 L835.34,549.66 L836.33,549.79 L837.33,549.92 L838.32,550.05 L839.31,550.18 L840.30,550.31 L841.29,550.44 L842.29,550.57 L843.28,550.70 L844.27,550.83 L845.26,550.96 L846.25,551.09 L847.25,551.22 L848.24,551.35 L849.23,551.48 L850.22,551.61 L851.22,551.74 L852.21,551.87 L853.20,552.00" fill="none" stroke="#DCE646" stroke-width="3.2" stroke-linejoin="round" stroke-linecap="round"/>
<path d="M140.70,30.00 L140.71,31.00 L140.71,32.00 L140.72,33.00 L140.72,34.00 L140.73,35.00 L140.73,36.00 L140.74,37.00 L140.74,38.01 L140.75,39.01 L140.75,40.01 L140.76,41.01 L140.76,42.01 L140.77,43.01 L140.77,44.01 L140.78,45.01 L140.78,46.01 L140.79,47.01 L140.79,48.01 L140.80,49.01 L140.80,50.01 L140.81,51.01 L140.81,52.01 L140.81,53.02 L140.82,54.02 L140.82,55.02 L140.83,56.02 L140.83,57.02 L140.84,58.02 L140.84,59.02 L140.84,60.02 L140.85,61.02 L140.85,62.02 L140.86,63.02 L140.86,64.02 L140.87,65.02 L140.87,66.02 L140.88,67.02 L140.88,68.03 L140.89,69.03 L140.89,70.03 L140.90,71.03 L140.90,72.03 L140.91,73.03 L140.91,74.03 L140.92,75.03 L140.92,76.03 L140.93,77.03 L140.94,78.03 L140.94,79.03 L140.95,80.03 L140.95,81.03 L140.96,82.03 L140.97,83.04 L140.98,84.04 L140.98,85.04 L140.99,86.04 L141.00,87.04 L141.00,88.04 L141.01,89.04 L141.02,90.04 L141.03,91.04 L141.03,92.04 L141.04,93.04 L141.05,94.04 L141.06,95.04 L141.07,96.04 L141.07,97.04 L141.08,98.05 L141.09,99.05 L141.10,100.05 L141.11,101.05 L141.12,102.05 L141.13,103.05 L141.14,104.05 L141.15,105.05 L141.16,106.05 L141.17,107.05 L141.18,108.05 L141.19,109.05 L141.20,110.05 L141.21,111.05 L141.22,112.05 L141.23,113.05 L141.24,114.06 L141.25,115.06 L141.26,116.06 L141.27,117.06 L141.28,118.06 L141.29,119.06 L141.30,120.06 L141.31,121.06 L141.32,122.06 L141.33,123.06 L141.34,124.06 L141.36,125.06 L141.37,126.06 L141.38,127.06 L141.39,128.06 L141.41,129.06 L141.42,130.06 L141.43,131.07 L141.45,132.07 L141.46,133.07 L141.48,134.07 L141.49,135.07 L141.51,136.07 L141.53,137.07 L141.54,138.07 L141.56,139.07 L141.58,140.07 L141.60,141.07 L141.62,142.07 L141.64,143.07 L141.66,144.07 L141.68,145.07 L141.71,146.07 L141.73,147.07 L141.76,148.07 L141.78,149.07 L141.81,150.07 L141.84,151.07 L141.86,152.08 L141.89,153.08 L141.92,154.08 L141.95,155.08 L141.98,156.08 L142.01,157.08 L142.04,158.08 L142.08,159.08 L142.11,160.08 L142.14,161.08 L142.18,162.08 L142.21,163.08 L142.25,164.08 L142.29,165.08 L142.33,166.08 L142.37,167.08 L142.41,168.08 L142.45,169.08 L142.50,170.08 L142.54,171.08 L142.59,172.07 L142.64,173.07 L142.69,174.07 L142.74,175.07 L142.79,176.07 L142.85,177.07 L142.90,178.07 L142.96,179.07 L143.02,180.07 L143.09,181.07 L143.15,182.07 L143.22,183.06 L143.29,184.06 L143.37,185.06 L143.45,186.06 L143.53,187.05 L143.61,188.05 L143.69,189.05 L143.78,190.05 L143.86,191.04 L143.95,192.04 L144.03,193.04 L144.12,194.03 L144.20,195.03 L144.28,196.03 L144.36,197.03 L144.44,198.02 L144.51,199.02 L144.59,200.02 L144.66,201.02 L144.73,202.02 L144.79,203.01 L144.86,204.01 L144.92,205.01 L144.99,206.01 L145.05,207.01 L145.11,208.01 L145.17,209.01 L145.23,210.01 L145.29,211.00 L145.34,212.00 L145.40,213.00 L145.46,214.00 L145.52,215.00 L145.57,216.00 L145.63,217.00 L145.69,218.00 L145.75,219.00 L145.81,220.00 L145.87,220.99 L145.93,221.99 L145.99,222.99 L146.05,223.99 L146.11,224.99 L146.17,225.99 L146.24,226.99 L146.30,227.99 L146.37,228.98 L146.44,229.98 L146.51,230.98 L146.58,231.98 L146.65,232.98 L146.73,233.97 L146.80,234.97 L146.88,235.97 L146.96,236.97 L147.04,237.97 L147.12,238.96 L147.20,239.96 L147.29,240.96 L147.37,241.95 L147.45,242.95 L147.54,243.95 L147.62,244.95 L147.70,245.94 L147.79,246.94 L147.87,247.94 L147.96,248.93 L148.04,249.93 L148.12,250.93 L148.21,251.93 L148.29,252.92 L148.37,253.92 L148.45,254.92 L148.53,255.92 L148.61,256.91 L148.69,257.91 L148.76,258.91 L148.84,259.91 L148.91,260.90 L148.98,261.90 L149.05,262.90 L149.11,263.90 L149.18,264.90 L149.24,265.90 L149.30,266.90 L149.35,267.89 L149.41,268.89 L149.46,269.89 L149.52,270.89 L149.57,271.89 L149.62,272.89 L149.67,273.89 L149.72,274.89 L149.78,275.89 L149.83,276.89 L149.88,277.89 L149.94,278.89 L149.99,279.89 L150.05,280.88 L150.11,281.88 L150.17,282.88 L150.24,283.88 L150.31,284.88 L150.38,285.88 L150.46,286.87 L150.54,287.87 L150.63,288.87 L150.72,289.86 L150.82,290.86 L150.93,291.85 L151.03,292.85 L151.15,293.84 L151.27,294.84 L151.39,295.83 L151.52,296.82 L151.65,297.81 L151.79,298.81 L151.92,299.80 L152.06,300.79 L152.20,301.78 L152.34,302.77 L152.48,303.76 L152.62,304.75 L152.76,305.74 L152.89,306.73 L153.03,307.73 L153.16,308.72 L153.29,309.71 L153.43,310.70 L153.55,311.69 L153.68,312.69 L153.81,313.68 L153.94,314.67 L154.06,315.66 L154.19,316.66 L154.31,317.65 L154.44,318.64 L154.56,319.63 L154.69,320.63 L154.81,321.62 L154.94,322.61 L155.06,323.61 L155.19,324.60 L155.31,325.59 L155.43,326.59 L155.55,327.58 L155.67,328.57 L155.78,329.57 L155.90,330.56 L156.01,331.55 L156.13,332.55 L156.25,333.54 L156.38,334.53 L156.52,335.52 L156.67,336.51 L156.84,337.49 L157.03,338.47 L157.23,339.45 L157.45,340.42 L157.70,341.39 L157.96,342.36 L158.24,343.31 L158.53,344.27 L158.84,345.22 L159.16,346.17 L159.48,347.12 L159.80,348.06 L160.12,349.01 L160.44,349.96 L160.76,350.90 L161.08,351.85 L161.40,352.80 L161.72,353.75 L162.04,354.70 L162.37,355.64 L162.71,356.58 L163.06,357.52 L163.43,358.44 L163.81,359.36 L164.21,360.28 L164.63,361.18 L165.05,362.09 L165.49,362.99 L165.92,363.89 L166.35,364.79 L166.77,365.70 L167.18,366.61 L167.58,367.52 L167.98,368.44 L168.37,369.36 L168.77,370.27 L169.17,371.19 L169.59,372.09 L170.02,372.99 L170.47,373.89 L170.93,374.77 L171.42,375.64 L171.93,376.50 L172.45,377.34 L173.00,378.18 L173.56,379.00 L174.14,379.81 L174.74,380.61 L175.36,381.39 L176.00,382.16 L176.65,382.92 L177.32,383.66 L178.00,384.39 L178.69,385.11 L179.40,385.81 L180.11,386.51 L180.83,387.21 L181.56,387.90 L182.29,388.58 L183.02,389.26 L183.75,389.94 L184.49,390.62 L185.24,391.29 L185.99,391.95 L186.74,392.60 L187.51,393.24 L188.28,393.87 L189.07,394.49 L189.87,395.09 L190.68,395.67 L191.50,396.24 L192.33,396.80 L193.17,397.33 L194.02,397.86 L194.88,398.37 L195.74,398.87 L196.62,399.36 L197.49,399.83 L198.38,400.30 L199.27,400.76 L200.16,401.21 L201.06,401.65 L201.96,402.08 L202.87,402.50 L203.78,402.92 L204.69,403.33 L205.60,403.74 L206.52,404.14 L207.43,404.55 L208.35,404.95 L209.27,405.35 L210.19,405.74 L211.10,406.14 L212.02,406.54 L212.94,406.93 L213.87,407.32 L214.79,407.71 L215.71,408.10 L216.63,408.48 L217.55,408.87 L218.48,409.26 L219.40,409.64 L220.33,410.02 L221.26,410.39 L222.19,410.76 L223.12,411.12 L224.06,411.47 L225.00,411.81 L225.94,412.15 L226.89,412.47 L227.84,412.77 L228.79,413.07 L229.75,413.35 L230.71,413.61 L231.68,413.87 L232.65,414.11 L233.62,414.34 L234.60,414.57 L235.58,414.78 L236.55,414.99 L237.53,415.19 L238.52,415.39 L239.50,415.58 L240.48,415.77 L241.46,415.96 L242.44,416.15 L243.43,416.33 L244.41,416.53 L245.39,416.72 L246.37,416.91 L247.35,417.11 L248.33,417.32 L249.31,417.52 L250.29,417.73 L251.27,417.94 L252.25,418.15 L253.22,418.37 L254.20,418.58 L255.18,418.80 L256.16,419.01 L257.14,419.22 L258.11,419.43 L259.09,419.63 L260.07,419.83 L261.06,420.03 L262.04,420.22 L263.02,420.40 L264.01,420.58 L264.99,420.75 L265.98,420.91 L266.97,421.06 L267.96,421.21 L268.95,421.35 L269.94,421.49 L270.93,421.62 L271.92,421.75 L272.91,421.87 L273.91,421.99 L274.90,422.11 L275.89,422.23 L276.89,422.36 L277.88,422.48 L278.87,422.61 L279.86,422.74 L280.86,422.88 L281.85,423.03 L282.83,423.18 L283.82,423.33 L284.81,423.49 L285.80,423.66 L286.78,423.83 L287.77,424.01 L288.75,424.19 L289.73,424.37 L290.72,424.56 L291.70,424.75 L292.68,424.95 L293.66,425.14 L294.64,425.34 L295.62,425.55 L296.60,425.75 L297.58,425.96 L298.56,426.17 L299.54,426.37 L300.52,426.58 L301.50,426.79 L302.47,427.00 L303.45,427.21 L304.43,427.41 L305.41,427.62 L306.39,427.82 L307.37,428.02 L308.35,428.22 L309.33,428.42 L310.31,428.62 L311.29,428.83 L312.27,429.03 L313.25,429.24 L314.23,429.46 L315.20,429.67 L316.18,429.90 L317.15,430.13 L318.12,430.37 L319.09,430.62 L320.06,430.88 L321.02,431.15 L321.98,431.43 L322.94,431.72 L323.89,432.02 L324.84,432.34 L325.78,432.66 L326.72,433.00 L327.66,433.35 L328.59,433.71 L329.52,434.08 L330.45,434.46 L331.37,434.85 L332.29,435.24 L333.21,435.64 L334.12,436.05 L335.03,436.47 L335.94,436.88 L336.85,437.31 L337.75,437.73 L338.66,438.16 L339.56,438.59 L340.46,439.02 L341.37,439.45 L342.27,439.88 L343.17,440.31 L344.08,440.74 L344.98,441.16 L345.89,441.59 L346.80,442.01 L347.71,442.43 L348.62,442.84 L349.53,443.25 L350.45,443.65 L351.36,444.06 L352.28,444.46 L353.20,444.86 L354.11,445.25 L355.03,445.65 L355.95,446.04 L356.87,446.43 L357.80,446.82 L358.72,447.21 L359.65,447.59 L360.57,447.96 L361.50,448.33 L362.43,448.70 L363.37,449.05 L364.31,449.40 L365.25,449.73 L366.19,450.06 L367.14,450.38 L368.09,450.69 L369.05,451.00 L370.00,451.29 L370.96,451.57 L371.92,451.85 L372.89,452.12 L373.85,452.37 L374.82,452.63 L375.79,452.87 L376.76,453.11 L377.74,453.33 L378.71,453.56 L379.69,453.77 L380.67,453.98 L381.65,454.18 L382.63,454.38 L383.61,454.57 L384.59,454.75 L385.58,454.93 L386.57,455.10 L387.55,455.26 L388.54,455.42 L389.53,455.57 L390.52,455.71 L391.51,455.85 L392.50,455.99 L393.49,456.12 L394.48,456.25 L395.48,456.38 L396.47,456.50 L397.46,456.62 L398.46,456.74 L399.45,456.86 L400.45,456.97 L401.44,457.09 L402.43,457.20 L403.43,457.31 L404.42,457.43 L405.42,457.54 L406.41,457.66 L407.40,457.77 L408.40,457.88 L409.39,458.00 L410.39,458.11 L411.38,458.23 L412.37,458.34 L413.37,458.46 L414.36,458.57 L415.36,458.68 L416.35,458.79 L417.35,458.90 L418.34,459.01 L419.34,459.12 L420.33,459.23 L421.33,459.34 L422.32,459.45 L423.32,459.55 L424.31,459.66 L425.31,459.76 L426.30,459.87 L427.30,459.98 L428.29,460.08 L429.29,460.19 L430.28,460.29 L431.28,460.40 L432.27,460.51 L433.27,460.61 L434.26,460.72 L435.26,460.82 L436.25,460.93 L437.25,461.04 L438.24,461.14 L439.24,461.25 L440.23,461.35 L441.23,461.46 L442.22,461.56 L443.22,461.66 L444.21,461.77 L445.21,461.87 L446.20,461.98 L447.20,462.08 L448.19,462.19 L449.19,462.29 L450.18,462.40 L451.18,462.51 L452.17,462.61 L453.17,462.72 L454.16,462.83 L455.16,462.94 L456.15,463.06 L457.15,463.17 L458.14,463.29 L459.13,463.40 L460.13,463.52 L461.12,463.64 L462.11,463.75 L463.11,463.87 L464.10,463.99 L465.10,464.11 L466.09,464.22 L467.08,464.34 L468.08,464.46 L469.07,464.58 L470.06,464.70 L471.06,464.82 L472.05,464.94 L473.04,465.06 L474.04,465.19 L475.03,465.31 L476.02,465.44 L477.01,465.57 L478.01,465.70 L479.00,465.84 L479.99,465.97 L480.98,466.11 L481.97,466.25 L482.96,466.40 L483.95,466.55 L484.94,466.70 L485.93,466.85 L486.92,467.01 L487.90,467.17 L488.89,467.34 L489.88,467.50 L490.86,467.68 L491.85,467.85 L492.83,468.03 L493.82,468.22 L494.80,468.40 L495.78,468.59 L496.76,468.78 L497.74,468.98 L498.73,469.18 L499.71,469.38 L500.69,469.58 L501.66,469.78 L502.64,469.99 L503.62,470.20 L504.60,470.41 L505.58,470.63 L506.55,470.84 L507.53,471.06 L508.51,471.28 L509.48,471.50 L510.46,471.73 L511.43,471.95 L512.41,472.18 L513.38,472.41 L514.36,472.64 L515.33,472.87 L516.30,473.11 L517.27,473.34 L518.25,473.58 L519.22,473.82 L520.19,474.07 L521.16,474.32 L522.13,474.57 L523.09,474.82 L524.06,475.08 L525.03,475.34 L525.99,475.60 L526.96,475.87 L527.92,476.14 L528.88,476.41 L529.84,476.68 L530.81,476.96 L531.77,477.23 L532.73,477.51 L533.69,477.79 L534.65,478.07 L535.62,478.34 L536.58,478.62 L537.54,478.89 L538.50,479.16 L539.47,479.42 L540.44,479.68 L541.40,479.94 L542.37,480.19 L543.34,480.44 L544.31,480.69 L545.28,480.93 L546.25,481.17 L547.22,481.42 L548.19,481.67 L549.16,481.92 L550.12,482.18 L551.09,482.45 L552.05,482.72 L553.00,483.01 L553.96,483.32 L554.90,483.64 L555.84,483.97 L556.78,484.32 L557.71,484.69 L558.63,485.07 L559.55,485.47 L560.46,485.88 L561.36,486.30 L562.26,486.74 L563.16,487.18 L564.05,487.64 L564.94,488.09 L565.83,488.56 L566.71,489.02 L567.60,489.49 L568.48,489.95 L569.37,490.42 L570.26,490.88 L571.15,491.33 L572.04,491.78 L572.94,492.23 L573.84,492.67 L574.74,493.10 L575.64,493.53 L576.55,493.96 L577.45,494.38 L578.36,494.80 L579.27,495.21 L580.18,495.63 L581.10,496.04 L582.01,496.45 L582.92,496.86 L583.84,497.26 L584.75,497.67 L585.67,498.07 L586.58,498.48 L587.50,498.88 L588.41,499.29 L589.33,499.69 L590.24,500.09 L591.16,500.50 L592.07,500.91 L592.99,501.31 L593.90,501.72 L594.82,502.13 L595.73,502.53 L596.64,502.94 L597.56,503.35 L598.48,503.75 L599.39,504.15 L600.31,504.55 L601.23,504.95 L602.15,505.34 L603.07,505.73 L603.99,506.12 L604.92,506.49 L605.85,506.87 L606.78,507.24 L607.71,507.60 L608.65,507.95 L609.58,508.30 L610.52,508.64 L611.47,508.98 L612.41,509.31 L613.36,509.63 L614.31,509.95 L615.26,510.26 L616.21,510.56 L617.16,510.87 L618.12,511.16 L619.08,511.46 L620.03,511.75 L620.99,512.04 L621.95,512.32 L622.91,512.61 L623.87,512.89 L624.83,513.16 L625.79,513.44 L626.76,513.72 L627.72,513.99 L628.68,514.26 L629.64,514.53 L630.61,514.81 L631.57,515.08 L632.53,515.35 L633.50,515.62 L634.46,515.89 L635.42,516.16 L636.39,516.43 L637.35,516.70 L638.31,516.97 L639.28,517.24 L640.24,517.50 L641.21,517.77 L642.17,518.04 L643.14,518.30 L644.10,518.57 L645.07,518.83 L646.03,519.09 L647.00,519.35 L647.97,519.60 L648.94,519.86 L649.90,520.11 L650.87,520.37 L651.84,520.62 L652.81,520.87 L653.78,521.12 L654.75,521.36 L655.72,521.61 L656.69,521.85 L657.66,522.09 L658.63,522.33 L659.60,522.57 L660.58,522.81 L661.55,523.04 L662.52,523.28 L663.49,523.51 L664.47,523.74 L665.44,523.97 L666.42,524.19 L667.39,524.42 L668.37,524.64 L669.34,524.87 L670.32,525.09 L671.29,525.31 L672.27,525.53 L673.25,525.75 L674.22,525.96 L675.20,526.18 L676.18,526.39 L677.16,526.60 L678.14,526.81 L679.11,527.02 L680.09,527.23 L681.07,527.44 L682.05,527.65 L683.03,527.85 L684.01,528.06 L684.99,528.26 L685.97,528.47 L686.95,528.67 L687.93,528.87 L688.91,529.07 L689.89,529.27 L690.87,529.47 L691.85,529.67 L692.83,529.87 L693.81,530.06 L694.80,530.26 L695.78,530.45 L696.76,530.64 L697.74,530.83 L698.72,531.03 L699.71,531.22 L700.69,531.41 L701.67,531.60 L702.65,531.79 L703.64,531.97 L704.62,532.16 L705.60,532.35 L706.58,532.53 L707.57,532.72 L708.55,532.91 L709.54,533.09 L710.52,533.27 L711.50,533.46 L712.49,533.64 L713.47,533.82 L714.45,534.00 L715.44,534.18 L716.42,534.36 L717.41,534.54 L718.39,534.72 L719.38,534.90 L720.36,535.08 L721.35,535.26 L722.33,535.43 L723.32,535.61 L724.30,535.79 L725.29,535.96 L726.27,536.14 L727.26,536.31 L728.24,536.49 L729.23,536.66 L730.21,536.83 L731.20,537.01 L732.18,537.18 L733.17,537.35 L734.16,537.52 L735.14,537.69 L736.13,537.86 L737.12,538.03 L738.10,538.19 L739.09,538.36 L740.08,538.52 L741.06,538.69 L742.05,538.85 L743.04,539.01 L744.03,539.17 L745.01,539.33 L746.00,539.49 L746.99,539.65 L747.98,539.81 L748.97,539.97 L749.95,540.12 L750.94,540.28 L751.93,540.44 L752.92,540.59 L753.91,540.75 L754.90,540.90 L755.88,541.06 L756.87,541.21 L757.86,541.37 L758.85,541.52 L759.84,541.68 L760.83,541.83 L761.82,541.99 L762.80,542.15 L763.79,542.30 L764.78,542.46 L765.77,542.62 L766.76,542.77 L767.75,542.93 L768.73,543.09 L769.72,543.25 L770.71,543.41 L771.70,543.57 L772.69,543.73 L773.67,543.89 L774.66,544.05 L775.65,544.21 L776.64,544.38 L777.62,544.54 L778.61,544.71 L779.60,544.88 L780.58,545.04 L781.57,545.21 L782.55,545.38 L783.54,545.55 L784.53,545.72 L785.51,545.89 L786.50,546.06 L787.49,546.23 L788.47,546.40 L789.46,546.58 L790.44,546.75 L791.43,546.92 L792.41,547.09 L793.40,547.27 L794.38,547.44 L795.37,547.62 L796.36,547.79 L797.34,547.97 L798.33,548.14 L799.31,548.32 L800.30,548.49 L801.28,548.67 L802.27,548.84 L803.25,549.02 L804.24,549.19 L805.22,549.37 L806.21,549.55 L807.19,549.72 L808.18,549.90 L809.16,550.07 L810.15,550.25 L811.13,550.43 L812.12,550.60 L813.10,550.78 L814.09,550.95 L815.07,551.13 L816.06,551.30 L817.04,551.48 L818.03,551.65 L819.01,551.83 L820.00,552.00" fill="none" stroke="#4C9A40" stroke-width="3.2" stroke-linejoin="round" stroke-linecap="round"/>
<path d="M140.70,30.00 L140.70,31.00 L140.71,32.00 L140.71,33.00 L140.71,34.00 L140.72,35.00 L140.72,36.00 L140.72,37.00 L140.73,38.00 L140.73,39.00 L140.73,40.00 L140.74,41.00 L140.74,42.00 L140.74,43.00 L140.75,44.00 L140.75,45.00 L140.75,46.00 L140.76,47.00 L140.76,48.00 L140.76,49.00 L140.77,50.00 L140.77,51.01 L140.77,52.01 L140.78,53.01 L140.78,54.01 L140.78,55.01 L140.79,56.01 L140.79,57.01 L140.79,58.01 L140.80,59.01 L140.80,60.01 L140.80,61.01 L140.80,62.01 L140.81,63.01 L140.81,64.01 L140.81,65.01 L140.81,66.01 L140.82,67.01 L140.82,68.01 L140.82,69.01 L140.83,70.01 L140.83,71.01 L140.83,72.01 L140.84,73.01 L140.84,74.01 L140.85,75.01 L140.85,76.01 L140.86,77.01 L140.86,78.01 L140.86,79.01 L140.87,80.01 L140.87,81.01 L140.88,82.01 L140.88,83.01 L140.89,84.01 L140.89,85.01 L140.90,86.01 L140.91,87.01 L140.91,88.01 L140.92,89.01 L140.92,90.01 L140.93,91.01 L140.94,92.01 L140.94,93.01 L140.95,94.02 L140.96,95.02 L140.97,96.02 L140.97,97.02 L140.98,98.02 L140.99,99.02 L141.00,100.02 L141.01,101.02 L141.02,102.02 L141.03,103.02 L141.04,104.02 L141.05,105.02 L141.06,106.02 L141.07,107.02 L141.08,108.02 L141.09,109.02 L141.10,110.02 L141.11,111.02 L141.12,112.02 L141.13,113.02 L141.14,114.02 L141.15,115.02 L141.16,116.02 L141.17,117.02 L141.18,118.02 L141.20,119.02 L141.21,120.02 L141.22,121.02 L141.23,122.02 L141.24,123.02 L141.25,124.02 L141.27,125.02 L141.28,126.02 L141.29,127.02 L141.31,128.02 L141.32,129.02 L141.33,130.02 L141.35,131.02 L141.36,132.02 L141.38,133.02 L141.40,134.02 L141.41,135.02 L141.43,136.02 L141.44,137.02 L141.46,138.02 L141.48,139.02 L141.50,140.02 L141.52,141.02 L141.54,142.02 L141.55,143.02 L141.57,144.02 L141.60,145.02 L141.62,146.02 L141.64,147.02 L141.66,148.02 L141.68,149.02 L141.70,150.02 L141.73,151.02 L141.75,152.02 L141.77,153.02 L141.80,154.02 L141.82,155.02 L141.85,156.02 L141.87,157.02 L141.90,158.02 L141.93,159.02 L141.95,160.02 L141.98,161.02 L142.01,162.02 L142.04,163.02 L142.07,164.02 L142.10,165.02 L142.13,166.02 L142.16,167.02 L142.20,168.02 L142.23,169.02 L142.27,170.02 L142.30,171.02 L142.34,172.02 L142.38,173.02 L142.43,174.02 L142.47,175.02 L142.51,176.02 L142.56,177.02 L142.61,178.01 L142.66,179.01 L142.72,180.01 L142.78,181.01 L142.84,182.01 L142.90,183.01 L142.97,184.00 L143.04,185.00 L143.11,186.00 L143.18,187.00 L143.26,187.99 L143.34,188.99 L143.42,189.99 L143.50,190.99 L143.58,191.98 L143.66,192.98 L143.74,193.98 L143.82,194.97 L143.89,195.97 L143.97,196.97 L144.04,197.97 L144.11,198.96 L144.18,199.96 L144.25,200.96 L144.32,201.96 L144.38,202.96 L144.44,203.95 L144.51,204.95 L144.57,205.95 L144.63,206.95 L144.69,207.95 L144.74,208.95 L144.80,209.94 L144.86,210.94 L144.92,211.94 L144.97,212.94 L145.03,213.94 L145.08,214.94 L145.14,215.94 L145.20,216.94 L145.25,217.93 L145.31,218.93 L145.36,219.93 L145.42,220.93 L145.48,221.93 L145.53,222.93 L145.59,223.93 L145.65,224.92 L145.70,225.92 L145.76,226.92 L145.82,227.92 L145.88,228.92 L145.94,229.92 L146.00,230.92 L146.06,231.91 L146.12,232.91 L146.18,233.91 L146.25,234.91 L146.31,235.91 L146.37,236.91 L146.44,237.90 L146.50,238.90 L146.57,239.90 L146.63,240.90 L146.70,241.90 L146.76,242.89 L146.83,243.89 L146.90,244.89 L146.96,245.89 L147.03,246.89 L147.09,247.88 L147.16,248.88 L147.22,249.88 L147.29,250.88 L147.36,251.88 L147.42,252.88 L147.48,253.87 L147.55,254.87 L147.61,255.87 L147.68,256.87 L147.74,257.87 L147.80,258.86 L147.86,259.86 L147.92,260.86 L147.98,261.86 L148.04,262.86 L148.10,263.86 L148.16,264.86 L148.21,265.85 L148.27,266.85 L148.32,267.85 L148.38,268.85 L148.43,269.85 L148.48,270.85 L148.54,271.85 L148.59,272.85 L148.64,273.84 L148.69,274.84 L148.74,275.84 L148.79,276.84 L148.85,277.84 L148.90,278.84 L148.96,279.84 L149.01,280.84 L149.07,281.83 L149.13,282.83 L149.19,283.83 L149.25,284.83 L149.32,285.83 L149.39,286.83 L149.46,287.82 L149.53,288.82 L149.61,289.82 L149.69,290.82 L149.77,291.81 L149.86,292.81 L149.95,293.80 L150.04,294.80 L150.14,295.80 L150.23,296.79 L150.33,297.79 L150.43,298.78 L150.54,299.78 L150.64,300.77 L150.75,301.77 L150.85,302.76 L150.96,303.76 L151.06,304.75 L151.17,305.74 L151.27,306.74 L151.37,307.73 L151.48,308.73 L151.58,309.72 L151.68,310.72 L151.78,311.71 L151.88,312.71 L151.98,313.71 L152.08,314.70 L152.18,315.70 L152.28,316.69 L152.37,317.69 L152.47,318.68 L152.57,319.68 L152.67,320.67 L152.77,321.67 L152.87,322.66 L152.96,323.66 L153.06,324.65 L153.15,325.65 L153.24,326.65 L153.33,327.64 L153.42,328.64 L153.51,329.64 L153.59,330.63 L153.67,331.63 L153.76,332.62 L153.85,333.62 L153.95,334.61 L154.06,335.61 L154.19,336.60 L154.33,337.59 L154.49,338.57 L154.67,339.55 L154.87,340.53 L155.09,341.50 L155.33,342.47 L155.59,343.43 L155.87,344.39 L156.16,345.35 L156.46,346.30 L156.77,347.25 L157.10,348.20 L157.42,349.14 L157.76,350.08 L158.09,351.03 L158.43,351.97 L158.78,352.90 L159.12,353.84 L159.47,354.78 L159.81,355.72 L160.16,356.66 L160.49,357.60 L160.83,358.54 L161.15,359.49 L161.47,360.44 L161.78,361.39 L162.09,362.34 L162.39,363.29 L162.68,364.25 L162.98,365.20 L163.28,366.16 L163.58,367.11 L163.88,368.06 L164.19,369.01 L164.51,369.96 L164.84,370.91 L165.17,371.85 L165.51,372.79 L165.87,373.72 L166.23,374.65 L166.60,375.58 L166.99,376.50 L167.39,377.42 L167.80,378.33 L168.23,379.23 L168.67,380.13 L169.12,381.02 L169.58,381.90 L170.06,382.78 L170.55,383.65 L171.06,384.51 L171.58,385.36 L172.12,386.20 L172.67,387.03 L173.24,387.85 L173.82,388.66 L174.43,389.46 L175.04,390.24 L175.67,391.02 L176.32,391.78 L176.98,392.52 L177.66,393.26 L178.35,393.97 L179.06,394.68 L179.78,395.36 L180.52,396.03 L181.28,396.68 L182.05,397.30 L182.84,397.91 L183.64,398.50 L184.46,399.08 L185.29,399.63 L186.12,400.18 L186.97,400.71 L187.82,401.24 L188.68,401.75 L189.54,402.26 L190.40,402.76 L191.27,403.25 L192.15,403.73 L193.03,404.20 L193.92,404.65 L194.82,405.09 L195.72,405.51 L196.63,405.92 L197.55,406.32 L198.48,406.69 L199.41,407.05 L200.34,407.40 L201.28,407.74 L202.23,408.07 L203.17,408.40 L204.12,408.72 L205.07,409.03 L206.02,409.35 L206.97,409.66 L207.92,409.98 L208.87,410.29 L209.82,410.61 L210.77,410.92 L211.72,411.23 L212.67,411.54 L213.62,411.85 L214.57,412.16 L215.52,412.47 L216.47,412.77 L217.43,413.08 L218.38,413.38 L219.33,413.68 L220.29,413.98 L221.24,414.28 L222.20,414.57 L223.16,414.86 L224.12,415.14 L225.08,415.42 L226.04,415.69 L227.00,415.95 L227.97,416.21 L228.94,416.45 L229.91,416.69 L230.88,416.93 L231.86,417.15 L232.83,417.37 L233.81,417.58 L234.79,417.79 L235.77,417.99 L236.75,418.19 L237.73,418.39 L238.71,418.58 L239.69,418.77 L240.67,418.96 L241.66,419.14 L242.64,419.33 L243.62,419.51 L244.61,419.69 L245.59,419.87 L246.57,420.06 L247.56,420.24 L248.54,420.42 L249.52,420.60 L250.51,420.78 L251.49,420.96 L252.48,421.14 L253.46,421.32 L254.44,421.50 L255.43,421.68 L256.41,421.85 L257.40,422.03 L258.38,422.20 L259.37,422.36 L260.36,422.53 L261.34,422.69 L262.33,422.86 L263.32,423.01 L264.31,423.17 L265.30,423.32 L266.28,423.46 L267.28,423.60 L268.27,423.74 L269.26,423.87 L270.25,424.00 L271.24,424.13 L272.23,424.26 L273.22,424.39 L274.22,424.51 L275.21,424.64 L276.20,424.77 L277.19,424.90 L278.18,425.04 L279.17,425.18 L280.16,425.33 L281.15,425.48 L282.14,425.64 L283.12,425.81 L284.11,425.98 L285.09,426.16 L286.08,426.34 L287.06,426.53 L288.04,426.73 L289.02,426.92 L290.00,427.13 L290.97,427.34 L291.95,427.55 L292.93,427.77 L293.90,428.00 L294.88,428.22 L295.85,428.46 L296.82,428.70 L297.79,428.94 L298.76,429.19 L299.72,429.45 L300.69,429.71 L301.65,429.98 L302.62,430.25 L303.58,430.52 L304.54,430.80 L305.50,431.09 L306.45,431.37 L307.41,431.67 L308.37,431.96 L309.32,432.26 L310.27,432.56 L311.23,432.87 L312.18,433.18 L313.13,433.50 L314.07,433.82 L315.02,434.14 L315.96,434.48 L316.90,434.81 L317.84,435.16 L318.78,435.51 L319.71,435.87 L320.64,436.23 L321.57,436.61 L322.49,436.99 L323.41,437.39 L324.32,437.79 L325.23,438.21 L326.13,438.64 L327.03,439.08 L327.92,439.54 L328.80,440.00 L329.68,440.48 L330.55,440.97 L331.42,441.46 L332.29,441.96 L333.15,442.47 L334.01,442.97 L334.87,443.48 L335.74,443.99 L336.60,444.49 L337.47,444.98 L338.34,445.47 L339.22,445.94 L340.11,446.41 L340.99,446.87 L341.89,447.31 L342.79,447.74 L343.69,448.17 L344.60,448.58 L345.52,448.99 L346.44,449.38 L347.36,449.77 L348.28,450.15 L349.21,450.52 L350.14,450.88 L351.08,451.23 L352.02,451.57 L352.96,451.91 L353.91,452.23 L354.86,452.54 L355.81,452.84 L356.77,453.12 L357.73,453.40 L358.69,453.66 L359.66,453.92 L360.63,454.16 L361.60,454.38 L362.58,454.60 L363.56,454.81 L364.54,455.00 L365.52,455.19 L366.50,455.37 L367.49,455.54 L368.47,455.71 L369.46,455.86 L370.45,456.02 L371.44,456.17 L372.43,456.31 L373.42,456.46 L374.41,456.60 L375.40,456.74 L376.39,456.88 L377.38,457.02 L378.37,457.16 L379.36,457.31 L380.35,457.45 L381.34,457.59 L382.33,457.74 L383.32,457.89 L384.30,458.04 L385.29,458.20 L386.28,458.35 L387.27,458.51 L388.26,458.66 L389.25,458.82 L390.23,458.97 L391.22,459.13 L392.21,459.29 L393.20,459.44 L394.19,459.60 L395.17,459.75 L396.16,459.91 L397.15,460.06 L398.14,460.22 L399.13,460.37 L400.12,460.52 L401.10,460.67 L402.09,460.82 L403.08,460.97 L404.07,461.12 L405.06,461.27 L406.05,461.42 L407.04,461.56 L408.03,461.71 L409.02,461.86 L410.01,462.00 L411.00,462.14 L411.99,462.28 L412.98,462.42 L413.97,462.56 L414.96,462.70 L415.95,462.84 L416.94,462.97 L417.93,463.11 L418.92,463.24 L419.92,463.37 L420.91,463.50 L421.90,463.63 L422.89,463.76 L423.88,463.89 L424.88,464.01 L425.87,464.14 L426.86,464.26 L427.85,464.38 L428.85,464.50 L429.84,464.62 L430.83,464.74 L431.83,464.86 L432.82,464.98 L433.81,465.10 L434.81,465.22 L435.80,465.33 L436.79,465.45 L437.79,465.56 L438.78,465.68 L439.77,465.79 L440.77,465.91 L441.76,466.02 L442.75,466.14 L443.75,466.25 L444.74,466.36 L445.74,466.48 L446.73,466.59 L447.72,466.70 L448.72,466.81 L449.71,466.93 L450.71,467.04 L451.70,467.15 L452.69,467.27 L453.69,467.38 L454.68,467.49 L455.67,467.60 L456.67,467.72 L457.66,467.83 L458.66,467.94 L459.65,468.05 L460.64,468.16 L461.64,468.27 L462.63,468.38 L463.63,468.49 L464.62,468.60 L465.62,468.70 L466.61,468.81 L467.61,468.91 L468.60,469.01 L469.60,469.11 L470.59,469.21 L471.59,469.31 L472.58,469.41 L473.58,469.52 L474.57,469.62 L475.57,469.72 L476.56,469.83 L477.56,469.93 L478.55,470.04 L479.54,470.15 L480.54,470.26 L481.53,470.38 L482.52,470.50 L483.52,470.62 L484.51,470.75 L485.50,470.88 L486.49,471.02 L487.48,471.15 L488.47,471.30 L489.46,471.45 L490.45,471.60 L491.44,471.76 L492.42,471.92 L493.41,472.08 L494.40,472.25 L495.38,472.43 L496.37,472.60 L497.35,472.78 L498.33,472.97 L499.32,473.15 L500.30,473.34 L501.28,473.53 L502.26,473.72 L503.24,473.92 L504.22,474.12 L505.20,474.32 L506.18,474.52 L507.16,474.73 L508.14,474.93 L509.12,475.14 L510.10,475.35 L511.07,475.56 L512.05,475.77 L513.03,475.98 L514.01,476.19 L514.99,476.40 L515.96,476.62 L516.94,476.83 L517.92,477.04 L518.89,477.26 L519.87,477.47 L520.85,477.69 L521.82,477.90 L522.80,478.12 L523.78,478.34 L524.75,478.56 L525.73,478.78 L526.70,479.00 L527.68,479.22 L528.65,479.45 L529.63,479.67 L530.60,479.90 L531.57,480.14 L532.54,480.37 L533.52,480.61 L534.49,480.86 L535.45,481.11 L536.42,481.36 L537.39,481.61 L538.35,481.87 L539.32,482.14 L540.28,482.41 L541.24,482.68 L542.21,482.96 L543.16,483.24 L544.12,483.53 L545.08,483.82 L546.04,484.11 L546.99,484.41 L547.94,484.72 L548.89,485.03 L549.84,485.34 L550.79,485.66 L551.74,485.99 L552.68,486.32 L553.62,486.66 L554.56,487.00 L555.50,487.35 L556.43,487.71 L557.36,488.07 L558.29,488.44 L559.21,488.82 L560.14,489.21 L561.06,489.60 L561.98,489.99 L562.89,490.40 L563.81,490.80 L564.72,491.21 L565.63,491.63 L566.54,492.04 L567.45,492.46 L568.35,492.88 L569.26,493.30 L570.17,493.72 L571.08,494.14 L571.99,494.55 L572.90,494.97 L573.81,495.38 L574.72,495.80 L575.63,496.21 L576.54,496.62 L577.46,497.03 L578.37,497.44 L579.28,497.85 L580.19,498.26 L581.10,498.67 L582.02,499.08 L582.93,499.50 L583.84,499.91 L584.75,500.33 L585.65,500.75 L586.56,501.17 L587.47,501.59 L588.37,502.02 L589.27,502.45 L590.17,502.88 L591.07,503.33 L591.97,503.77 L592.86,504.22 L593.75,504.68 L594.64,505.14 L595.52,505.60 L596.41,506.07 L597.29,506.54 L598.17,507.01 L599.06,507.48 L599.94,507.94 L600.83,508.41 L601.72,508.87 L602.61,509.33 L603.50,509.77 L604.40,510.22 L605.30,510.65 L606.20,511.07 L607.11,511.49 L608.03,511.89 L608.95,512.28 L609.87,512.66 L610.80,513.03 L611.73,513.39 L612.67,513.74 L613.61,514.08 L614.55,514.41 L615.50,514.73 L616.45,515.04 L617.40,515.35 L618.35,515.65 L619.31,515.94 L620.27,516.23 L621.23,516.51 L622.19,516.79 L623.15,517.06 L624.11,517.34 L625.08,517.60 L626.04,517.87 L627.01,518.13 L627.97,518.39 L628.94,518.65 L629.90,518.90 L630.87,519.16 L631.84,519.41 L632.81,519.67 L633.77,519.92 L634.74,520.17 L635.71,520.42 L636.68,520.67 L637.65,520.92 L638.62,521.16 L639.59,521.41 L640.56,521.64 L641.53,521.88 L642.50,522.12 L643.48,522.35 L644.45,522.58 L645.42,522.81 L646.40,523.03 L647.37,523.26 L648.35,523.48 L649.32,523.70 L650.30,523.92 L651.27,524.14 L652.25,524.36 L653.23,524.58 L654.20,524.80 L655.18,525.01 L656.16,525.23 L657.13,525.45 L658.11,525.67 L659.08,525.89 L660.06,526.10 L661.04,526.32 L662.01,526.54 L662.99,526.76 L663.96,526.98 L664.94,527.21 L665.91,527.43 L666.89,527.65 L667.87,527.87 L668.84,528.09 L669.82,528.31 L670.79,528.53 L671.77,528.74 L672.75,528.96 L673.72,529.18 L674.70,529.39 L675.68,529.61 L676.65,529.82 L677.63,530.04 L678.61,530.25 L679.59,530.46 L680.56,530.67 L681.54,530.87 L682.52,531.08 L683.50,531.28 L684.48,531.48 L685.46,531.68 L686.44,531.88 L687.42,532.08 L688.40,532.27 L689.38,532.47 L690.37,532.66 L691.35,532.85 L692.33,533.04 L693.31,533.22 L694.30,533.41 L695.28,533.59 L696.26,533.78 L697.25,533.96 L698.23,534.14 L699.21,534.32 L700.20,534.50 L701.18,534.68 L702.17,534.85 L703.15,535.03 L704.14,535.20 L705.12,535.37 L706.11,535.55 L707.09,535.72 L708.08,535.89 L709.06,536.06 L710.05,536.23 L711.03,536.40 L712.02,536.57 L713.01,536.73 L713.99,536.90 L714.98,537.07 L715.97,537.23 L716.95,537.40 L717.94,537.57 L718.93,537.73 L719.91,537.89 L720.90,538.06 L721.89,538.22 L722.87,538.38 L723.86,538.55 L724.85,538.71 L725.83,538.87 L726.82,539.03 L727.81,539.19 L728.80,539.35 L729.78,539.51 L730.77,539.67 L731.76,539.83 L732.74,539.99 L733.73,540.15 L734.72,540.31 L735.71,540.47 L736.69,540.63 L737.68,540.79 L738.67,540.94 L739.66,541.10 L740.65,541.25 L741.63,541.41 L742.62,541.56 L743.61,541.71 L744.60,541.87 L745.59,542.02 L746.58,542.17 L747.57,542.32 L748.56,542.47 L749.54,542.62 L750.53,542.77 L751.52,542.92 L752.51,543.07 L753.50,543.22 L754.49,543.37 L755.48,543.52 L756.47,543.66 L757.46,543.81 L758.45,543.96 L759.44,544.10 L760.43,544.25 L761.42,544.39 L762.41,544.54 L763.39,544.68 L764.38,544.83 L765.37,544.97 L766.36,545.12 L767.35,545.26 L768.34,545.41 L769.33,545.55 L770.32,545.69 L771.31,545.84 L772.30,545.98 L773.29,546.12 L774.28,546.26 L775.27,546.41 L776.26,546.55 L777.25,546.69 L778.24,546.83 L779.23,546.97 L780.22,547.11 L781.21,547.25 L782.21,547.39 L783.20,547.53 L784.19,547.67 L785.18,547.81 L786.17,547.95 L787.16,548.09 L788.15,548.23 L789.14,548.36 L790.13,548.50 L791.12,548.64 L792.11,548.77 L793.10,548.91 L794.09,549.04 L795.09,549.18 L796.08,549.31 L797.07,549.45 L798.06,549.58 L799.05,549.72 L800.04,549.85 L801.03,549.99 L802.02,550.12 L803.01,550.25 L804.01,550.39 L805.00,550.52 L805.99,550.65 L806.98,550.79 L807.97,550.92 L808.96,551.05 L809.95,551.19 L810.94,551.32 L811.94,551.46 L812.93,551.59 L813.92,551.73 L814.91,551.86 L815.90,552.00" fill="none" stroke="#26CEC6" stroke-width="3.2" stroke-linejoin="round" stroke-linecap="round"/>
<path d="M140.70,30.00 L140.70,31.00 L140.71,32.00 L140.71,33.00 L140.71,34.00 L140.72,35.00 L140.72,36.00 L140.72,37.00 L140.72,38.01 L140.72,39.01 L140.73,40.01 L140.73,41.01 L140.73,42.01 L140.73,43.01 L140.73,44.01 L140.74,45.01 L140.74,46.01 L140.74,47.01 L140.74,48.01 L140.74,49.01 L140.74,50.01 L140.75,51.01 L140.75,52.01 L140.75,53.01 L140.75,54.02 L140.75,55.02 L140.75,56.02 L140.76,57.02 L140.76,58.02 L140.76,59.02 L140.76,60.02 L140.76,61.02 L140.76,62.02 L140.77,63.02 L140.77,64.02 L140.77,65.02 L140.77,66.02 L140.78,67.02 L140.78,68.02 L140.78,69.03 L140.78,70.03 L140.79,71.03 L140.79,72.03 L140.79,73.03 L140.79,74.03 L140.80,75.03 L140.80,76.03 L140.80,77.03 L140.80,78.03 L140.81,79.03 L140.81,80.03 L140.81,81.03 L140.82,82.03 L140.82,83.03 L140.82,84.03 L140.83,85.04 L140.83,86.04 L140.83,87.04 L140.84,88.04 L140.84,89.04 L140.85,90.04 L140.85,91.04 L140.86,92.04 L140.86,93.04 L140.87,94.04 L140.87,95.04 L140.88,96.04 L140.88,97.04 L140.89,98.04 L140.90,99.04 L140.90,100.05 L140.91,101.05 L140.91,102.05 L140.92,103.05 L140.93,104.05 L140.93,105.05 L140.94,106.05 L140.95,107.05 L140.96,108.05 L140.96,109.05 L140.97,110.05 L140.98,111.05 L140.99,112.05 L141.00,113.05 L141.01,114.05 L141.02,115.05 L141.02,116.05 L141.03,117.06 L141.04,118.06 L141.05,119.06 L141.06,120.06 L141.07,121.06 L141.08,122.06 L141.09,123.06 L141.10,124.06 L141.11,125.06 L141.12,126.06 L141.13,127.06 L141.14,128.06 L141.15,129.06 L141.16,130.06 L141.17,131.06 L141.18,132.06 L141.19,133.07 L141.20,134.07 L141.22,135.07 L141.23,136.07 L141.24,137.07 L141.25,138.07 L141.26,139.07 L141.27,140.07 L141.29,141.07 L141.30,142.07 L141.31,143.07 L141.32,144.07 L141.34,145.07 L141.35,146.07 L141.36,147.07 L141.37,148.07 L141.39,149.07 L141.40,150.07 L141.41,151.08 L141.43,152.08 L141.44,153.08 L141.45,154.08 L141.47,155.08 L141.48,156.08 L141.49,157.08 L141.51,158.08 L141.52,159.08 L141.53,160.08 L141.54,161.08 L141.56,162.08 L141.57,163.08 L141.59,164.08 L141.60,165.08 L141.62,166.08 L141.63,167.08 L141.65,168.08 L141.67,169.09 L141.68,170.09 L141.70,171.09 L141.72,172.09 L141.74,173.09 L141.76,174.09 L141.78,175.09 L141.81,176.09 L141.83,177.09 L141.86,178.09 L141.88,179.09 L141.91,180.09 L141.94,181.09 L141.97,182.09 L142.01,183.09 L142.04,184.09 L142.08,185.09 L142.12,186.09 L142.15,187.09 L142.20,188.09 L142.24,189.09 L142.28,190.09 L142.32,191.09 L142.37,192.09 L142.41,193.09 L142.45,194.09 L142.49,195.09 L142.54,196.09 L142.58,197.09 L142.62,198.09 L142.66,199.09 L142.70,200.09 L142.74,201.09 L142.77,202.09 L142.81,203.09 L142.84,204.09 L142.88,205.09 L142.91,206.09 L142.95,207.09 L142.98,208.09 L143.01,209.09 L143.04,210.09 L143.08,211.09 L143.11,212.09 L143.14,213.09 L143.18,214.09 L143.21,215.09 L143.24,216.09 L143.27,217.09 L143.31,218.09 L143.34,219.09 L143.38,220.09 L143.41,221.09 L143.45,222.09 L143.48,223.09 L143.52,224.09 L143.56,225.09 L143.60,226.09 L143.64,227.09 L143.68,228.09 L143.72,229.09 L143.77,230.09 L143.81,231.09 L143.86,232.09 L143.90,233.09 L143.95,234.09 L144.00,235.08 L144.05,236.08 L144.10,237.08 L144.15,238.08 L144.20,239.08 L144.25,240.08 L144.30,241.08 L144.36,242.08 L144.41,243.08 L144.46,244.08 L144.52,245.08 L144.58,246.08 L144.63,247.08 L144.69,248.07 L144.74,249.07 L144.80,250.07 L144.86,251.07 L144.92,252.07 L144.98,253.07 L145.03,254.07 L145.09,255.07 L145.15,256.07 L145.21,257.07 L145.27,258.06 L145.33,259.06 L145.39,260.06 L145.44,261.06 L145.50,262.06 L145.56,263.06 L145.62,264.06 L145.68,265.06 L145.75,266.06 L145.81,267.05 L145.87,268.05 L145.93,269.05 L145.99,270.05 L146.05,271.05 L146.12,272.05 L146.18,273.05 L146.24,274.05 L146.30,275.04 L146.37,276.04 L146.43,277.04 L146.49,278.04 L146.56,279.04 L146.62,280.04 L146.69,281.04 L146.75,282.03 L146.82,283.03 L146.89,284.03 L146.96,285.03 L147.03,286.03 L147.09,287.03 L147.16,288.02 L147.23,289.02 L147.30,290.02 L147.38,291.02 L147.45,292.02 L147.52,293.01 L147.59,294.01 L147.67,295.01 L147.74,296.01 L147.82,297.01 L147.89,298.00 L147.97,299.00 L148.05,300.00 L148.13,301.00 L148.21,301.99 L148.29,302.99 L148.37,303.99 L148.46,304.98 L148.55,305.98 L148.64,306.98 L148.73,307.97 L148.82,308.97 L148.92,309.97 L149.02,310.96 L149.12,311.96 L149.22,312.95 L149.33,313.95 L149.43,314.94 L149.54,315.94 L149.65,316.93 L149.76,317.93 L149.88,318.92 L149.99,319.92 L150.10,320.91 L150.22,321.90 L150.33,322.90 L150.44,323.89 L150.55,324.89 L150.66,325.88 L150.77,326.88 L150.88,327.87 L150.99,328.87 L151.10,329.86 L151.20,330.86 L151.31,331.85 L151.42,332.84 L151.53,333.84 L151.65,334.83 L151.77,335.83 L151.90,336.82 L152.04,337.81 L152.18,338.80 L152.34,339.78 L152.51,340.77 L152.68,341.75 L152.87,342.74 L153.07,343.72 L153.28,344.70 L153.49,345.67 L153.72,346.65 L153.95,347.62 L154.18,348.59 L154.42,349.57 L154.66,350.54 L154.91,351.51 L155.16,352.47 L155.41,353.44 L155.67,354.41 L155.93,355.38 L156.19,356.34 L156.45,357.31 L156.72,358.27 L156.98,359.24 L157.24,360.20 L157.50,361.17 L157.77,362.13 L158.03,363.10 L158.29,364.06 L158.56,365.03 L158.84,365.99 L159.12,366.95 L159.41,367.90 L159.72,368.86 L160.03,369.81 L160.35,370.75 L160.69,371.70 L161.03,372.63 L161.39,373.57 L161.75,374.50 L162.12,375.43 L162.50,376.36 L162.87,377.28 L163.25,378.21 L163.63,379.14 L164.02,380.06 L164.40,380.98 L164.79,381.91 L165.17,382.83 L165.57,383.75 L165.97,384.66 L166.38,385.58 L166.80,386.48 L167.23,387.38 L167.68,388.28 L168.14,389.16 L168.62,390.04 L169.12,390.90 L169.63,391.76 L170.16,392.60 L170.71,393.44 L171.28,394.26 L171.86,395.07 L172.45,395.87 L173.06,396.66 L173.69,397.43 L174.34,398.19 L175.01,398.93 L175.69,399.66 L176.40,400.36 L177.12,401.05 L177.86,401.72 L178.61,402.37 L179.38,403.00 L180.17,403.61 L180.97,404.20 L181.79,404.78 L182.62,405.33 L183.46,405.86 L184.32,406.37 L185.19,406.86 L186.07,407.32 L186.96,407.76 L187.87,408.18 L188.78,408.58 L189.71,408.95 L190.64,409.31 L191.58,409.64 L192.53,409.94 L193.49,410.23 L194.45,410.51 L195.41,410.76 L196.38,411.01 L197.35,411.25 L198.32,411.49 L199.29,411.73 L200.26,411.98 L201.23,412.23 L202.20,412.49 L203.16,412.75 L204.12,413.02 L205.08,413.30 L206.04,413.59 L207.00,413.88 L207.96,414.17 L208.91,414.46 L209.87,414.75 L210.83,415.04 L211.79,415.33 L212.74,415.62 L213.70,415.91 L214.66,416.20 L215.62,416.49 L216.58,416.77 L217.54,417.06 L218.50,417.34 L219.46,417.63 L220.42,417.91 L221.38,418.19 L222.34,418.46 L223.30,418.74 L224.26,419.01 L225.23,419.28 L226.19,419.55 L227.16,419.81 L228.12,420.07 L229.09,420.32 L230.06,420.58 L231.03,420.83 L232.00,421.07 L232.97,421.31 L233.94,421.55 L234.91,421.79 L235.89,422.02 L236.86,422.25 L237.83,422.48 L238.81,422.71 L239.78,422.93 L240.76,423.15 L241.74,423.37 L242.71,423.58 L243.69,423.80 L244.67,424.01 L245.65,424.21 L246.63,424.42 L247.61,424.62 L248.59,424.82 L249.57,425.01 L250.55,425.20 L251.54,425.39 L252.52,425.57 L253.50,425.75 L254.49,425.93 L255.47,426.11 L256.46,426.28 L257.44,426.46 L258.43,426.63 L259.41,426.80 L260.40,426.98 L261.39,427.15 L262.37,427.33 L263.36,427.50 L264.34,427.68 L265.33,427.86 L266.31,428.03 L267.30,428.21 L268.28,428.38 L269.27,428.56 L270.25,428.73 L271.24,428.91 L272.22,429.09 L273.21,429.26 L274.19,429.45 L275.17,429.63 L276.16,429.82 L277.14,430.01 L278.12,430.21 L279.10,430.42 L280.07,430.64 L281.05,430.86 L282.02,431.09 L282.99,431.33 L283.96,431.58 L284.92,431.85 L285.89,432.12 L286.85,432.39 L287.81,432.68 L288.76,432.98 L289.71,433.28 L290.67,433.59 L291.61,433.90 L292.56,434.23 L293.51,434.55 L294.45,434.88 L295.40,435.21 L296.34,435.55 L297.28,435.88 L298.22,436.22 L299.17,436.56 L300.11,436.90 L301.05,437.24 L301.99,437.57 L302.93,437.91 L303.87,438.25 L304.82,438.59 L305.76,438.93 L306.70,439.27 L307.64,439.61 L308.58,439.95 L309.52,440.30 L310.46,440.64 L311.40,440.99 L312.34,441.33 L313.27,441.68 L314.21,442.03 L315.15,442.38 L316.09,442.73 L317.02,443.08 L317.96,443.43 L318.90,443.79 L319.83,444.14 L320.77,444.49 L321.70,444.85 L322.64,445.21 L323.57,445.57 L324.51,445.93 L325.44,446.29 L326.37,446.66 L327.30,447.03 L328.23,447.40 L329.16,447.77 L330.08,448.15 L331.01,448.52 L331.94,448.90 L332.87,449.27 L333.80,449.64 L334.73,450.01 L335.66,450.37 L336.60,450.72 L337.53,451.07 L338.48,451.40 L339.42,451.73 L340.37,452.04 L341.32,452.35 L342.28,452.64 L343.24,452.92 L344.20,453.19 L345.17,453.44 L346.14,453.69 L347.11,453.92 L348.09,454.14 L349.06,454.35 L350.04,454.55 L351.03,454.74 L352.01,454.92 L352.99,455.09 L353.98,455.26 L354.97,455.42 L355.96,455.57 L356.95,455.71 L357.94,455.85 L358.93,455.99 L359.92,456.12 L360.91,456.25 L361.91,456.38 L362.90,456.50 L363.89,456.63 L364.88,456.75 L365.88,456.87 L366.87,456.98 L367.87,457.10 L368.86,457.21 L369.85,457.33 L370.85,457.44 L371.84,457.56 L372.84,457.67 L373.83,457.79 L374.82,457.90 L375.82,458.02 L376.81,458.13 L377.81,458.25 L378.80,458.36 L379.79,458.48 L380.79,458.59 L381.78,458.71 L382.78,458.82 L383.77,458.93 L384.77,459.04 L385.76,459.15 L386.75,459.26 L387.75,459.37 L388.74,459.47 L389.74,459.58 L390.74,459.68 L391.73,459.78 L392.73,459.88 L393.72,459.97 L394.72,460.06 L395.72,460.15 L396.71,460.24 L397.71,460.33 L398.71,460.41 L399.70,460.49 L400.70,460.56 L401.70,460.64 L402.70,460.71 L403.70,460.78 L404.69,460.84 L405.69,460.90 L406.69,460.96 L407.69,461.02 L408.69,461.07 L409.69,461.12 L410.69,461.17 L411.69,461.22 L412.69,461.27 L413.69,461.31 L414.69,461.36 L415.69,461.40 L416.69,461.44 L417.69,461.49 L418.69,461.53 L419.69,461.57 L420.69,461.61 L421.69,461.65 L422.69,461.69 L423.69,461.73 L424.69,461.77 L425.69,461.81 L426.69,461.85 L427.68,461.89 L428.68,461.93 L429.68,461.98 L430.68,462.02 L431.68,462.07 L432.68,462.11 L433.68,462.16 L434.68,462.21 L435.68,462.26 L436.68,462.31 L437.68,462.37 L438.68,462.42 L439.68,462.47 L440.68,462.52 L441.68,462.58 L442.68,462.63 L443.68,462.69 L444.67,462.74 L445.67,462.80 L446.67,462.86 L447.67,462.91 L448.67,462.97 L449.67,463.02 L450.67,463.08 L451.67,463.14 L452.67,463.19 L453.67,463.25 L454.67,463.30 L455.66,463.36 L456.66,463.41 L457.66,463.47 L458.66,463.52 L459.66,463.58 L460.66,463.63 L461.66,463.68 L462.66,463.74 L463.66,463.79 L464.66,463.84 L465.66,463.89 L466.66,463.94 L467.66,463.99 L468.65,464.04 L469.65,464.08 L470.65,464.13 L471.65,464.18 L472.65,464.23 L473.65,464.28 L474.65,464.33 L475.65,464.38 L476.65,464.44 L477.65,464.49 L478.65,464.54 L479.65,464.59 L480.65,464.65 L481.65,464.70 L482.65,464.76 L483.64,464.81 L484.64,464.87 L485.64,464.93 L486.64,464.99 L487.64,465.06 L488.64,465.12 L489.64,465.18 L490.64,465.25 L491.63,465.31 L492.63,465.38 L493.63,465.45 L494.63,465.51 L495.63,465.58 L496.63,465.65 L497.62,465.72 L498.62,465.79 L499.62,465.86 L500.62,465.93 L501.62,466.00 L502.61,466.07 L503.61,466.15 L504.61,466.22 L505.61,466.30 L506.61,466.38 L507.60,466.46 L508.60,466.55 L509.60,466.63 L510.59,466.72 L511.59,466.81 L512.59,466.91 L513.58,467.00 L514.58,467.11 L515.57,467.21 L516.57,467.32 L517.56,467.43 L518.55,467.55 L519.55,467.68 L520.54,467.80 L521.53,467.94 L522.52,468.08 L523.51,468.22 L524.50,468.37 L525.49,468.53 L526.48,468.69 L527.46,468.85 L528.45,469.02 L529.43,469.19 L530.42,469.37 L531.40,469.55 L532.39,469.73 L533.37,469.92 L534.35,470.10 L535.34,470.29 L536.32,470.48 L537.30,470.67 L538.28,470.87 L539.27,471.06 L540.25,471.25 L541.23,471.45 L542.21,471.64 L543.19,471.84 L544.17,472.04 L545.15,472.24 L546.13,472.44 L547.11,472.64 L548.09,472.85 L549.07,473.06 L550.05,473.27 L551.02,473.49 L552.00,473.71 L552.98,473.93 L553.95,474.15 L554.93,474.37 L555.90,474.60 L556.88,474.83 L557.85,475.06 L558.82,475.29 L559.80,475.52 L560.77,475.75 L561.74,475.99 L562.72,476.22 L563.69,476.46 L564.66,476.71 L565.62,476.96 L566.59,477.22 L567.56,477.48 L568.52,477.76 L569.48,478.04 L570.43,478.33 L571.39,478.63 L572.34,478.95 L573.28,479.27 L574.22,479.61 L575.16,479.96 L576.09,480.32 L577.02,480.70 L577.94,481.08 L578.86,481.47 L579.78,481.87 L580.69,482.28 L581.60,482.69 L582.51,483.11 L583.42,483.53 L584.32,483.96 L585.23,484.39 L586.13,484.82 L587.04,485.25 L587.94,485.68 L588.84,486.11 L589.74,486.55 L590.64,486.98 L591.54,487.42 L592.44,487.86 L593.34,488.30 L594.23,488.75 L595.13,489.19 L596.02,489.64 L596.92,490.10 L597.81,490.55 L598.70,491.00 L599.59,491.45 L600.49,491.90 L601.38,492.35 L602.28,492.79 L603.18,493.23 L604.08,493.67 L604.98,494.10 L605.89,494.52 L606.80,494.94 L607.71,495.35 L608.62,495.75 L609.54,496.15 L610.47,496.54 L611.39,496.91 L612.32,497.29 L613.25,497.65 L614.18,498.01 L615.12,498.36 L616.06,498.71 L617.00,499.05 L617.94,499.39 L618.88,499.73 L619.83,500.06 L620.77,500.38 L621.72,500.71 L622.67,501.03 L623.62,501.35 L624.57,501.66 L625.51,501.98 L626.46,502.30 L627.41,502.61 L628.36,502.93 L629.31,503.24 L630.26,503.56 L631.21,503.87 L632.16,504.19 L633.11,504.51 L634.06,504.83 L635.01,505.15 L635.95,505.47 L636.90,505.79 L637.85,506.11 L638.80,506.44 L639.74,506.76 L640.69,507.08 L641.64,507.41 L642.58,507.73 L643.53,508.06 L644.48,508.38 L645.42,508.71 L646.37,509.03 L647.32,509.35 L648.27,509.67 L649.22,509.98 L650.16,510.30 L651.11,510.62 L652.07,510.93 L653.02,511.24 L653.97,511.55 L654.92,511.85 L655.88,512.15 L656.83,512.46 L657.78,512.75 L658.74,513.05 L659.70,513.34 L660.65,513.63 L661.61,513.92 L662.57,514.21 L663.53,514.49 L664.49,514.77 L665.45,515.05 L666.41,515.33 L667.38,515.61 L668.34,515.88 L669.30,516.15 L670.26,516.42 L671.23,516.69 L672.19,516.96 L673.16,517.22 L674.12,517.49 L675.09,517.75 L676.06,518.00 L677.02,518.26 L677.99,518.51 L678.96,518.77 L679.93,519.02 L680.90,519.26 L681.87,519.51 L682.84,519.75 L683.81,520.00 L684.78,520.24 L685.75,520.47 L686.72,520.71 L687.70,520.94 L688.67,521.17 L689.65,521.40 L690.62,521.63 L691.59,521.85 L692.57,522.08 L693.55,522.30 L694.52,522.51 L695.50,522.73 L696.48,522.94 L697.46,523.15 L698.43,523.36 L699.41,523.57 L700.39,523.78 L701.37,523.98 L702.35,524.18 L703.33,524.39 L704.31,524.59 L705.29,524.79 L706.27,524.98 L707.25,525.18 L708.24,525.38 L709.22,525.57 L710.20,525.77 L711.18,525.96 L712.16,526.15 L713.15,526.34 L714.13,526.53 L715.11,526.72 L716.09,526.91 L717.08,527.10 L718.06,527.29 L719.04,527.48 L720.02,527.66 L721.01,527.85 L721.99,528.04 L722.97,528.22 L723.96,528.41 L724.94,528.59 L725.92,528.78 L726.91,528.96 L727.89,529.15 L728.87,529.33 L729.86,529.52 L730.84,529.70 L731.82,529.89 L732.81,530.07 L733.79,530.26 L734.77,530.44 L735.76,530.63 L736.74,530.81 L737.72,531.00 L738.71,531.18 L739.69,531.37 L740.68,531.55 L741.66,531.73 L742.64,531.91 L743.63,532.10 L744.61,532.28 L745.60,532.46 L746.58,532.64 L747.56,532.82 L748.55,533.00 L749.53,533.18 L750.52,533.35 L751.50,533.53 L752.49,533.71 L753.47,533.89 L754.46,534.06 L755.44,534.24 L756.43,534.42 L757.41,534.59 L758.40,534.77 L759.38,534.94 L760.37,535.11 L761.35,535.29 L762.34,535.46 L763.33,535.63 L764.31,535.80 L765.30,535.97 L766.28,536.14 L767.27,536.31 L768.26,536.47 L769.24,536.64 L770.23,536.81 L771.22,536.97 L772.20,537.14 L773.19,537.30 L774.18,537.47 L775.17,537.63 L776.15,537.79 L777.14,537.96 L778.13,538.12 L779.11,538.28 L780.10,538.44 L781.09,538.60 L782.08,538.76 L783.07,538.92 L784.05,539.08 L785.04,539.24 L786.03,539.40 L787.02,539.55 L788.01,539.71 L788.99,539.87 L789.98,540.02 L790.97,540.18 L791.96,540.33 L792.95,540.49 L793.94,540.64 L794.93,540.79 L795.92,540.95 L796.90,541.10 L797.89,541.25 L798.88,541.40 L799.87,541.55 L800.86,541.70 L801.85,541.84 L802.84,541.99 L803.83,542.14 L804.82,542.28 L805.81,542.43 L806.80,542.57 L807.79,542.71 L808.78,542.85 L809.77,542.99 L810.77,543.13 L811.76,543.27 L812.75,543.40 L813.74,543.54 L814.73,543.68 L815.72,543.81 L816.71,543.94 L817.71,544.07 L818.70,544.20 L819.69,544.33 L820.68,544.46 L821.68,544.59 L822.67,544.71 L823.66,544.83 L824.66,544.95 L825.65,545.07 L826.64,545.18 L827.64,545.30 L828.63,545.41 L829.63,545.52 L830.62,545.63 L831.62,545.73 L832.61,545.84 L833.61,545.94 L834.60,546.04 L835.60,546.14 L836.59,546.24 L837.59,546.34 L838.58,546.44 L839.58,546.54 L840.58,546.64 L841.57,546.73 L842.57,546.83 L843.56,546.92 L844.56,547.02 L845.56,547.11 L846.55,547.21 L847.55,547.30 L848.55,547.39 L849.54,547.49 L850.54,547.58 L851.53,547.67 L852.53,547.77 L853.53,547.86 L854.52,547.95 L855.52,548.05 L856.51,548.15 L857.51,548.24 L858.51,548.34 L859.50,548.44 L860.50,548.54 L861.49,548.65 L862.49,548.75 L863.48,548.86 L864.48,548.96 L865.47,549.07 L866.47,549.19 L867.46,549.30 L868.45,549.42 L869.45,549.54 L870.44,549.66 L871.43,549.78 L872.43,549.90 L873.42,550.03 L874.41,550.16 L875.41,550.28 L876.40,550.41 L877.39,550.55 L878.38,550.68 L879.37,550.81 L880.36,550.94 L881.36,551.08 L882.35,551.21 L883.34,551.34 L884.33,551.47 L885.32,551.61 L886.32,551.74 L887.31,551.87 L888.30,552.00" fill="none" stroke="#A61F68" stroke-width="3.2" stroke-linejoin="round" stroke-linecap="round"/>
<text x="129.3" y="475.8" font-size="29.5" text-anchor="end">0.5</text>
<text x="129.3" y="388.4" font-size="29.5" text-anchor="end">1.0</text>
<text x="129.3" y="301.0" font-size="29.5" text-anchor="end">1.5</text>
<text x="129.3" y="213.6" font-size="29.5" text-anchor="end">2.0</text>
<text x="129.3" y="126.2" font-size="29.5" text-anchor="end">2.5</text>
<text x="129.3" y="38.8" font-size="29.5" text-anchor="end">3.0</text>
<text x="140.3" y="585.5" font-size="29.5" text-anchor="middle">0</text>
<text x="233.8" y="585.5" font-size="29.5" text-anchor="middle">200</text>
<text x="327.3" y="585.5" font-size="29.5" text-anchor="middle">400</text>
<text x="420.8" y="585.5" font-size="29.5" text-anchor="middle">600</text>
<text x="514.3" y="585.5" font-size="29.5" text-anchor="middle">800</text>
<text x="607.8" y="585.5" font-size="29.5" text-anchor="middle">1000</text>
<text x="701.3" y="585.5" font-size="29.5" text-anchor="middle">1200</text>
<text x="794.8" y="585.5" font-size="29.5" text-anchor="middle">1400</text>
<text x="888.3" y="585.5" font-size="29.5" text-anchor="middle">1600</text>
<text x="301.5" y="639.1" font-size="38" textLength="424" lengthAdjust="spacing">Specific Capacity / mAh g<tspan font-size="20" dy="-22">-1</tspan></text>
<text transform="translate(67.6,361.3) rotate(-90)" font-size="38">E vs. Li/Li<tspan font-size="26" dy="-19.6">+</tspan><tspan dy="19.6"> / V</tspan></text>
<text x="32" y="39" font-size="44.5">(a)</text>
<line x1="153.2" y1="443.8" x2="238" y2="331" stroke="#000" stroke-width="2.7" stroke-linecap="round"/>
<polygon points="248.3,316.9 232.6,327.5 242.3,334.6" fill="#000" stroke="#000" stroke-width="1.4" stroke-linejoin="round"/>
<line x1="512.5" y1="72.0" x2="606.5" y2="72.0" stroke="#D42026" stroke-width="3.3"/>
<text x="615.5" y="86.6" font-size="43" textLength="253.5" lengthAdjust="spacing">Zn<tspan font-size="25" dy="16.5">0.88</tspan><tspan dy="-16.5">Fe</tspan><tspan font-size="25" dy="16.5">0.12</tspan><tspan dy="-16.5">O-C</tspan></text>
<line x1="512.5" y1="138.1" x2="606.5" y2="138.1" stroke="#DCE646" stroke-width="3.3"/>
<text x="615.5" y="152.7" font-size="43" textLength="253.5" lengthAdjust="spacing">Zn<tspan font-size="25" dy="16.5">0.90</tspan><tspan dy="-16.5">Fe</tspan><tspan font-size="25" dy="16.5">0.10</tspan><tspan dy="-16.5">O-C</tspan></text>
<line x1="512.5" y1="204.2" x2="606.5" y2="204.2" stroke="#4C9A40" stroke-width="3.3"/>
<text x="615.5" y="218.8" font-size="43" textLength="253.5" lengthAdjust="spacing">Zn<tspan font-size="25" dy="16.5">0.92</tspan><tspan dy="-16.5">Fe</tspan><tspan font-size="25" dy="16.5">0.08</tspan><tspan dy="-16.5">O-C</tspan></text>
<line x1="512.5" y1="270.3" x2="606.5" y2="270.3" stroke="#26CEC6" stroke-width="3.3"/>
<text x="615.5" y="284.9" font-size="43" textLength="253.5" lengthAdjust="spacing">Zn<tspan font-size="25" dy="16.5">0.94</tspan><tspan dy="-16.5">Fe</tspan><tspan font-size="25" dy="16.5">0.06</tspan><tspan dy="-16.5">O-C</tspan></text>
<line x1="512.5" y1="336.4" x2="606.5" y2="336.4" stroke="#A61F68" stroke-width="3.3"/>
<text x="615.5" y="351.0" font-size="43" textLength="253.5" lengthAdjust="spacing">Zn<tspan font-size="25" dy="16.5">0.98</tspan><tspan dy="-16.5">Fe</tspan><tspan font-size="25" dy="16.5">0.02</tspan><tspan dy="-16.5">O-C</tspan></text>
<path d="M128.0,683.5 H848.0 V1188.0 H128.0 Z" stroke="#000" stroke-width="2.4" fill="none"/>
<path d="M128.0,1166.98 h5.0 M128.0,1145.96 h5.0 M128.0,1124.94 h5.0 M128.0,1103.92 h9.0 M128.0,1082.90 h5.0 M128.0,1061.88 h5.0 M128.0,1040.85 h5.0 M128.0,1019.83 h9.0 M128.0,998.81 h5.0 M128.0,977.79 h5.0 M128.0,956.77 h5.0 M128.0,935.75 h9.0 M128.0,914.73 h5.0 M128.0,893.71 h5.0 M128.0,872.69 h5.0 M128.0,851.67 h9.0 M128.0,830.65 h5.0 M128.0,809.62 h5.0 M128.0,788.60 h5.0 M128.0,767.58 h9.0 M128.0,746.56 h5.0 M128.0,725.54 h5.0 M128.0,704.52 h5.0 M848.0,1168.21 h-5.0 M848.0,1148.42 h-5.0 M848.0,1128.64 h-5.0 M848.0,1108.85 h-5.0 M848.0,1089.06 h-9.0 M848.0,1069.27 h-5.0 M848.0,1049.48 h-5.0 M848.0,1029.70 h-5.0 M848.0,1009.91 h-5.0 M848.0,990.12 h-9.0 M848.0,970.33 h-5.0 M848.0,950.54 h-5.0 M848.0,930.76 h-5.0 M848.0,910.97 h-5.0 M848.0,891.18 h-9.0 M848.0,871.39 h-5.0 M848.0,851.60 h-5.0 M848.0,831.82 h-5.0 M848.0,812.03 h-5.0 M848.0,792.24 h-9.0 M848.0,772.45 h-5.0 M848.0,752.66 h-5.0 M848.0,732.88 h-5.0 M848.0,713.09 h-5.0 M848.0,693.30 h-9.0 M152.00,1188.0 v-9 M200.00,1188.0 v-9 M248.00,1188.0 v-9 M296.00,1188.0 v-9 M344.00,1188.0 v-9 M392.00,1188.0 v-9 M440.00,1188.0 v-9 M488.00,1188.0 v-9 M536.00,1188.0 v-9 M584.00,1188.0 v-9 M632.00,1188.0 v-9 M680.00,1188.0 v-9 M728.00,1188.0 v-9 M776.00,1188.0 v-9 M824.00,1188.0 v-9" stroke="#000" stroke-width="2.2" fill="none"/>
<text x="116.5" y="1197.4" font-size="29.5" text-anchor="end">0</text>
<text x="116.5" y="1113.3" font-size="29.5" text-anchor="end">200</text>
<text x="116.5" y="1029.2" font-size="29.5" text-anchor="end">400</text>
<text x="116.5" y="945.1" font-size="29.5" text-anchor="end">600</text>
<text x="116.5" y="861.1" font-size="29.5" text-anchor="end">800</text>
<text x="116.5" y="777.0" font-size="29.5" text-anchor="end">1000</text>
<text x="116.5" y="692.9" font-size="29.5" text-anchor="end">1200</text>
<text x="859.5" y="1197.2" font-size="29.5">0</text>
<text x="859.5" y="1098.3" font-size="29.5">20</text>
<text x="859.5" y="999.3" font-size="29.5">40</text>
<text x="859.5" y="900.4" font-size="29.5">60</text>
<text x="859.5" y="801.4" font-size="29.5">80</text>
<text x="859.5" y="702.5" font-size="29.5">100</text>
<text x="151.70" y="1222.7" font-size="29.5" text-anchor="middle">1</text>
<text x="199.70" y="1222.7" font-size="29.5" text-anchor="middle">2</text>
<text x="247.70" y="1222.7" font-size="29.5" text-anchor="middle">3</text>
<text x="295.70" y="1222.7" font-size="29.5" text-anchor="middle">4</text>
<text x="343.70" y="1222.7" font-size="29.5" text-anchor="middle">5</text>
<text x="391.70" y="1222.7" font-size="29.5" text-anchor="middle">6</text>
<text x="439.70" y="1222.7" font-size="29.5" text-anchor="middle">7</text>
<text x="487.70" y="1222.7" font-size="29.5" text-anchor="middle">8</text>
<text x="535.70" y="1222.7" font-size="29.5" text-anchor="middle">9</text>
<text x="583.70" y="1222.7" font-size="29.5" text-anchor="middle">10</text>
<text x="631.70" y="1222.7" font-size="29.5" text-anchor="middle">11</text>
<text x="679.70" y="1222.7" font-size="29.5" text-anchor="middle">12</text>
<text x="727.70" y="1222.7" font-size="29.5" text-anchor="middle">13</text>
<text x="775.70" y="1222.7" font-size="29.5" text-anchor="middle">14</text>
<text x="823.70" y="1222.7" font-size="29.5" text-anchor="middle">15</text>
<text x="386" y="1270.9" font-size="39">Cycle Number</text>
<text transform="translate(40.6,1152.5) rotate(-90)" font-size="39.2">Specific Capacity / mAh g<tspan font-size="20" dy="-21">-1</tspan></text>
<text transform="translate(940,1140.5) rotate(-90)" font-size="39.2">Coulombic Efficiency / %</text>
<text x="0.5" y="672" font-size="44.5">(b)</text>
<rect x="148.10" y="867.60" width="7.8" height="7.8" fill="none" stroke="#DCEC28" stroke-width="2.1"/>
<rect x="196.10" y="733.50" width="7.8" height="7.8" fill="none" stroke="#DCEC28" stroke-width="2.1"/>
<rect x="244.10" y="725.40" width="7.8" height="7.8" fill="none" stroke="#DCEC28" stroke-width="2.1"/>
<rect x="292.10" y="723.20" width="7.8" height="7.8" fill="none" stroke="#DCEC28" stroke-width="2.1"/>
<rect x="340.10" y="715.40" width="7.8" height="7.8" fill="none" stroke="#DCEC28" stroke-width="2.1"/>
<rect x="388.10" y="712.70" width="7.8" height="7.8" fill="none" stroke="#DCEC28" stroke-width="2.1"/>
<rect x="436.10" y="711.80" width="7.8" height="7.8" fill="none" stroke="#DCEC28" stroke-width="2.1"/>
<rect x="484.10" y="710.40" width="7.8" height="7.8" fill="none" stroke="#DCEC28" stroke-width="2.1"/>
<rect x="532.10" y="709.60" width="7.8" height="7.8" fill="none" stroke="#DCEC28" stroke-width="2.1"/>
<rect x="580.10" y="709.10" width="7.8" height="7.8" fill="none" stroke="#DCEC28" stroke-width="2.1"/>
<rect x="628.10" y="708.60" width="7.8" height="7.8" fill="none" stroke="#DCEC28" stroke-width="2.1"/>
<rect x="676.10" y="708.10" width="7.8" height="7.8" fill="none" stroke="#DCEC28" stroke-width="2.1"/>
<rect x="724.10" y="707.60" width="7.8" height="7.8" fill="none" stroke="#DCEC28" stroke-width="2.1"/>
<rect x="772.10" y="707.60" width="7.8" height="7.8" fill="none" stroke="#DCEC28" stroke-width="2.1"/>
<rect x="820.10" y="707.10" width="7.8" height="7.8" fill="none" stroke="#DCEC28" stroke-width="2.1"/>
<rect x="148.10" y="868.10" width="7.8" height="7.8" fill="none" stroke="#46A032" stroke-width="2.1"/>
<rect x="196.10" y="734.00" width="7.8" height="7.8" fill="none" stroke="#46A032" stroke-width="2.1"/>
<rect x="244.10" y="725.90" width="7.8" height="7.8" fill="none" stroke="#46A032" stroke-width="2.1"/>
<rect x="292.10" y="720.60" width="7.8" height="7.8" fill="none" stroke="#46A032" stroke-width="2.1"/>
<rect x="340.10" y="715.90" width="7.8" height="7.8" fill="none" stroke="#46A032" stroke-width="2.1"/>
<rect x="388.10" y="713.20" width="7.8" height="7.8" fill="none" stroke="#46A032" stroke-width="2.1"/>
<rect x="436.10" y="712.30" width="7.8" height="7.8" fill="none" stroke="#46A032" stroke-width="2.1"/>
<rect x="484.10" y="710.90" width="7.8" height="7.8" fill="none" stroke="#46A032" stroke-width="2.1"/>
<rect x="532.10" y="710.10" width="7.8" height="7.8" fill="none" stroke="#46A032" stroke-width="2.1"/>
<rect x="580.10" y="709.60" width="7.8" height="7.8" fill="none" stroke="#46A032" stroke-width="2.1"/>
<rect x="628.10" y="709.10" width="7.8" height="7.8" fill="none" stroke="#46A032" stroke-width="2.1"/>
<rect x="676.10" y="708.60" width="7.8" height="7.8" fill="none" stroke="#46A032" stroke-width="2.1"/>
<rect x="724.10" y="708.10" width="7.8" height="7.8" fill="none" stroke="#46A032" stroke-width="2.1"/>
<rect x="772.10" y="708.10" width="7.8" height="7.8" fill="none" stroke="#46A032" stroke-width="2.1"/>
<rect x="820.10" y="707.60" width="7.8" height="7.8" fill="none" stroke="#46A032" stroke-width="2.1"/>
<rect x="148.10" y="863.70" width="7.8" height="7.8" fill="none" stroke="#14CCC8" stroke-width="2.1"/>
<rect x="196.10" y="725.10" width="7.8" height="7.8" fill="none" stroke="#14CCC8" stroke-width="2.1"/>
<rect x="244.10" y="717.10" width="7.8" height="7.8" fill="none" stroke="#14CCC8" stroke-width="2.1"/>
<rect x="292.10" y="710.20" width="7.8" height="7.8" fill="none" stroke="#14CCC8" stroke-width="2.1"/>
<rect x="340.10" y="706.80" width="7.8" height="7.8" fill="none" stroke="#14CCC8" stroke-width="2.1"/>
<rect x="388.10" y="705.50" width="7.8" height="7.8" fill="none" stroke="#14CCC8" stroke-width="2.1"/>
<rect x="436.10" y="702.50" width="7.8" height="7.8" fill="none" stroke="#14CCC8" stroke-width="2.1"/>
<rect x="484.10" y="701.80" width="7.8" height="7.8" fill="none" stroke="#14CCC8" stroke-width="2.1"/>
<rect x="532.10" y="701.60" width="7.8" height="7.8" fill="none" stroke="#14CCC8" stroke-width="2.1"/>
<rect x="580.10" y="701.10" width="7.8" height="7.8" fill="none" stroke="#14CCC8" stroke-width="2.1"/>
<rect x="628.10" y="700.60" width="7.8" height="7.8" fill="none" stroke="#14CCC8" stroke-width="2.1"/>
<rect x="676.10" y="700.10" width="7.8" height="7.8" fill="none" stroke="#14CCC8" stroke-width="2.1"/>
<rect x="724.10" y="700.10" width="7.8" height="7.8" fill="none" stroke="#14CCC8" stroke-width="2.1"/>
<rect x="772.10" y="699.60" width="7.8" height="7.8" fill="none" stroke="#14CCC8" stroke-width="2.1"/>
<rect x="820.10" y="699.10" width="7.8" height="7.8" fill="none" stroke="#14CCC8" stroke-width="2.1"/>
<rect x="148.10" y="863.70" width="7.8" height="7.8" fill="none" stroke="#1B3F80" stroke-width="2.1"/>
<rect x="196.10" y="725.10" width="7.8" height="7.8" fill="none" stroke="#1B3F80" stroke-width="2.1"/>
<rect x="244.10" y="717.10" width="7.8" height="7.8" fill="none" stroke="#1B3F80" stroke-width="2.1"/>
<rect x="292.10" y="716.00" width="7.8" height="7.8" fill="none" stroke="#1B3F80" stroke-width="2.1"/>
<rect x="340.10" y="706.80" width="7.8" height="7.8" fill="none" stroke="#1B3F80" stroke-width="2.1"/>
<rect x="388.10" y="705.50" width="7.8" height="7.8" fill="none" stroke="#1B3F80" stroke-width="2.1"/>
<rect x="436.10" y="702.50" width="7.8" height="7.8" fill="none" stroke="#1B3F80" stroke-width="2.1"/>
<rect x="484.10" y="701.80" width="7.8" height="7.8" fill="none" stroke="#1B3F80" stroke-width="2.1"/>
<rect x="532.10" y="701.60" width="7.8" height="7.8" fill="none" stroke="#1B3F80" stroke-width="2.1"/>
<rect x="580.10" y="701.10" width="7.8" height="7.8" fill="none" stroke="#1B3F80" stroke-width="2.1"/>
<rect x="628.10" y="700.60" width="7.8" height="7.8" fill="none" stroke="#1B3F80" stroke-width="2.1"/>
<rect x="676.10" y="700.10" width="7.8" height="7.8" fill="none" stroke="#1B3F80" stroke-width="2.1"/>
<rect x="724.10" y="700.10" width="7.8" height="7.8" fill="none" stroke="#1B3F80" stroke-width="2.1"/>
<rect x="772.10" y="699.60" width="7.8" height="7.8" fill="none" stroke="#1B3F80" stroke-width="2.1"/>
<rect x="820.10" y="699.10" width="7.8" height="7.8" fill="none" stroke="#1B3F80" stroke-width="2.1"/>
<rect x="148.10" y="875.60" width="7.8" height="7.8" fill="none" stroke="#B41E73" stroke-width="2.1"/>
<rect x="196.10" y="752.30" width="7.8" height="7.8" fill="none" stroke="#B41E73" stroke-width="2.1"/>
<rect x="244.10" y="736.30" width="7.8" height="7.8" fill="none" stroke="#B41E73" stroke-width="2.1"/>
<rect x="292.10" y="732.10" width="7.8" height="7.8" fill="none" stroke="#B41E73" stroke-width="2.1"/>
<rect x="340.10" y="716.10" width="7.8" height="7.8" fill="none" stroke="#B41E73" stroke-width="2.1"/>
<rect x="388.10" y="713.40" width="7.8" height="7.8" fill="none" stroke="#B41E73" stroke-width="2.1"/>
<rect x="436.10" y="708.00" width="7.8" height="7.8" fill="none" stroke="#B41E73" stroke-width="2.1"/>
<rect x="484.10" y="707.10" width="7.8" height="7.8" fill="none" stroke="#B41E73" stroke-width="2.1"/>
<rect x="532.10" y="706.60" width="7.8" height="7.8" fill="none" stroke="#B41E73" stroke-width="2.1"/>
<rect x="580.10" y="706.10" width="7.8" height="7.8" fill="none" stroke="#B41E73" stroke-width="2.1"/>
<rect x="628.10" y="705.60" width="7.8" height="7.8" fill="none" stroke="#B41E73" stroke-width="2.1"/>
<rect x="676.10" y="705.10" width="7.8" height="7.8" fill="none" stroke="#B41E73" stroke-width="2.1"/>
<rect x="724.10" y="705.10" width="7.8" height="7.8" fill="none" stroke="#B41E73" stroke-width="2.1"/>
<rect x="772.10" y="704.60" width="7.8" height="7.8" fill="none" stroke="#B41E73" stroke-width="2.1"/>
<rect x="820.10" y="704.60" width="7.8" height="7.8" fill="none" stroke="#B41E73" stroke-width="2.1"/>
<rect x="148.10" y="868.60" width="7.8" height="7.8" fill="none" stroke="#F01E23" stroke-width="2.1"/>
<rect x="196.10" y="734.50" width="7.8" height="7.8" fill="none" stroke="#F01E23" stroke-width="2.1"/>
<rect x="244.10" y="726.40" width="7.8" height="7.8" fill="none" stroke="#F01E23" stroke-width="2.1"/>
<rect x="292.10" y="728.00" width="7.8" height="7.8" fill="none" stroke="#F01E23" stroke-width="2.1"/>
<rect x="340.10" y="716.40" width="7.8" height="7.8" fill="none" stroke="#F01E23" stroke-width="2.1"/>
<rect x="388.10" y="713.70" width="7.8" height="7.8" fill="none" stroke="#F01E23" stroke-width="2.1"/>
<rect x="436.10" y="712.80" width="7.8" height="7.8" fill="none" stroke="#F01E23" stroke-width="2.1"/>
<rect x="484.10" y="711.40" width="7.8" height="7.8" fill="none" stroke="#F01E23" stroke-width="2.1"/>
<rect x="532.10" y="710.60" width="7.8" height="7.8" fill="none" stroke="#F01E23" stroke-width="2.1"/>
<rect x="580.10" y="710.10" width="7.8" height="7.8" fill="none" stroke="#F01E23" stroke-width="2.1"/>
<rect x="628.10" y="709.60" width="7.8" height="7.8" fill="none" stroke="#F01E23" stroke-width="2.1"/>
<rect x="676.10" y="709.10" width="7.8" height="7.8" fill="none" stroke="#F01E23" stroke-width="2.1"/>
<rect x="724.10" y="708.60" width="7.8" height="7.8" fill="none" stroke="#F01E23" stroke-width="2.1"/>
<rect x="772.10" y="708.60" width="7.8" height="7.8" fill="none" stroke="#F01E23" stroke-width="2.1"/>
<rect x="820.10" y="708.10" width="7.8" height="7.8" fill="none" stroke="#F01E23" stroke-width="2.1"/>
<circle cx="152.00" cy="783.00" r="5.6" fill="#DCEC28"/>
<circle cx="200.00" cy="786.00" r="5.6" fill="#DCEC28"/>
<circle cx="248.00" cy="788.00" r="5.6" fill="#DCEC28"/>
<circle cx="296.00" cy="809.00" r="5.6" fill="#DCEC28"/>
<circle cx="344.00" cy="816.00" r="5.6" fill="#DCEC28"/>
<circle cx="392.00" cy="821.00" r="5.6" fill="#DCEC28"/>
<circle cx="440.00" cy="824.50" r="5.6" fill="#DCEC28"/>
<circle cx="488.00" cy="826.00" r="5.6" fill="#DCEC28"/>
<circle cx="536.00" cy="827.50" r="5.6" fill="#DCEC28"/>
<circle cx="584.00" cy="828.50" r="5.6" fill="#DCEC28"/>
<circle cx="632.00" cy="829.50" r="5.6" fill="#DCEC28"/>
<circle cx="680.00" cy="830.50" r="5.6" fill="#DCEC28"/>
<circle cx="728.00" cy="830.50" r="5.6" fill="#DCEC28"/>
<circle cx="776.00" cy="831.00" r="5.6" fill="#DCEC28"/>
<circle cx="824.00" cy="831.50" r="5.6" fill="#DCEC28"/>
<circle cx="152.00" cy="784.90" r="5.6" fill="#46A032"/>
<circle cx="200.00" cy="789.00" r="5.6" fill="#46A032"/>
<circle cx="248.00" cy="790.40" r="5.6" fill="#46A032"/>
<circle cx="296.00" cy="811.20" r="5.6" fill="#46A032"/>
<circle cx="344.00" cy="814.00" r="5.6" fill="#46A032"/>
<circle cx="392.00" cy="818.00" r="5.6" fill="#46A032"/>
<circle cx="440.00" cy="819.50" r="5.6" fill="#46A032"/>
<circle cx="488.00" cy="820.50" r="5.6" fill="#46A032"/>
<circle cx="536.00" cy="821.50" r="5.6" fill="#46A032"/>
<circle cx="584.00" cy="822.00" r="5.6" fill="#46A032"/>
<circle cx="632.00" cy="823.00" r="5.6" fill="#46A032"/>
<circle cx="680.00" cy="823.50" r="5.6" fill="#46A032"/>
<circle cx="728.00" cy="823.50" r="5.6" fill="#46A032"/>
<circle cx="776.00" cy="824.00" r="5.6" fill="#46A032"/>
<circle cx="824.00" cy="824.00" r="5.6" fill="#46A032"/>
<circle cx="152.00" cy="789.00" r="5.6" fill="#14CCC8"/>
<circle cx="200.00" cy="801.30" r="5.6" fill="#14CCC8"/>
<circle cx="248.00" cy="802.70" r="5.6" fill="#14CCC8"/>
<circle cx="296.00" cy="826.60" r="5.6" fill="#14CCC8"/>
<circle cx="344.00" cy="834.00" r="5.6" fill="#14CCC8"/>
<circle cx="392.00" cy="834.80" r="5.6" fill="#14CCC8"/>
<circle cx="440.00" cy="836.70" r="5.6" fill="#14CCC8"/>
<circle cx="488.00" cy="837.60" r="5.6" fill="#14CCC8"/>
<circle cx="536.00" cy="838.40" r="5.6" fill="#14CCC8"/>
<circle cx="584.00" cy="838.90" r="5.6" fill="#14CCC8"/>
<circle cx="632.00" cy="839.40" r="5.6" fill="#14CCC8"/>
<circle cx="680.00" cy="840.00" r="5.6" fill="#14CCC8"/>
<circle cx="728.00" cy="840.20" r="5.6" fill="#14CCC8"/>
<circle cx="776.00" cy="840.20" r="5.6" fill="#14CCC8"/>
<circle cx="824.00" cy="839.70" r="5.6" fill="#14CCC8"/>
<circle cx="152.00" cy="794.90" r="5.6" fill="#0F64B9"/>
<circle cx="200.00" cy="795.90" r="5.6" fill="#0F64B9"/>
<circle cx="248.00" cy="796.80" r="5.6" fill="#0F64B9"/>
<circle cx="296.00" cy="818.00" r="5.6" fill="#0F64B9"/>
<circle cx="344.00" cy="819.80" r="5.6" fill="#0F64B9"/>
<circle cx="392.00" cy="820.80" r="5.6" fill="#0F64B9"/>
<circle cx="440.00" cy="819.00" r="5.6" fill="#0F64B9"/>
<circle cx="488.00" cy="820.00" r="5.6" fill="#0F64B9"/>
<circle cx="536.00" cy="821.00" r="5.6" fill="#0F64B9"/>
<circle cx="584.00" cy="821.20" r="5.6" fill="#0F64B9"/>
<circle cx="632.00" cy="822.90" r="5.6" fill="#0F64B9"/>
<circle cx="680.00" cy="822.90" r="5.6" fill="#0F64B9"/>
<circle cx="728.00" cy="822.90" r="5.6" fill="#0F64B9"/>
<circle cx="776.00" cy="823.70" r="5.6" fill="#0F64B9"/>
<circle cx="824.00" cy="823.70" r="5.6" fill="#0F64B9"/>
<circle cx="152.00" cy="738.90" r="5.6" fill="#B41E73"/>
<circle cx="200.00" cy="762.70" r="5.6" fill="#B41E73"/>
<circle cx="248.00" cy="774.40" r="5.6" fill="#B41E73"/>
<circle cx="296.00" cy="804.00" r="5.6" fill="#B41E73"/>
<circle cx="344.00" cy="812.60" r="5.6" fill="#B41E73"/>
<circle cx="392.00" cy="816.00" r="5.6" fill="#B41E73"/>
<circle cx="440.00" cy="820.40" r="5.6" fill="#B41E73"/>
<circle cx="488.00" cy="822.30" r="5.6" fill="#B41E73"/>
<circle cx="536.00" cy="823.70" r="5.6" fill="#B41E73"/>
<circle cx="584.00" cy="825.40" r="5.6" fill="#B41E73"/>
<circle cx="632.00" cy="827.10" r="5.6" fill="#B41E73"/>
<circle cx="680.00" cy="828.80" r="5.6" fill="#B41E73"/>
<circle cx="728.00" cy="828.80" r="5.6" fill="#B41E73"/>
<circle cx="776.00" cy="828.80" r="5.6" fill="#B41E73"/>
<circle cx="824.00" cy="829.60" r="5.6" fill="#B41E73"/>
<circle cx="152.00" cy="779.50" r="5.6" fill="#F01E23"/>
<circle cx="200.00" cy="781.50" r="5.6" fill="#F01E23"/>
<circle cx="248.00" cy="784.00" r="5.6" fill="#F01E23"/>
<circle cx="296.00" cy="803.70" r="5.6" fill="#F01E23"/>
<circle cx="344.00" cy="805.70" r="5.6" fill="#F01E23"/>
<circle cx="392.00" cy="807.80" r="5.6" fill="#F01E23"/>
<circle cx="440.00" cy="809.80" r="5.6" fill="#F01E23"/>
<circle cx="488.00" cy="810.00" r="5.6" fill="#F01E23"/>
<circle cx="536.00" cy="811.10" r="5.6" fill="#F01E23"/>
<circle cx="584.00" cy="811.50" r="5.6" fill="#F01E23"/>
<circle cx="632.00" cy="812.80" r="5.6" fill="#F01E23"/>
<circle cx="680.00" cy="813.70" r="5.6" fill="#F01E23"/>
<circle cx="728.00" cy="814.20" r="5.6" fill="#F01E23"/>
<circle cx="776.00" cy="814.50" r="5.6" fill="#F01E23"/>
<circle cx="824.00" cy="815.30" r="5.6" fill="#F01E23"/>
<path d="M293.1,856.2 V886.8 H222" fill="none" stroke="#000" stroke-width="2.8" stroke-linejoin="round"/>
<polygon points="203.7,886.8 223.5,879.9 223.5,893.7" fill="#000"/>
<path d="M746,726.5 V758 H803" fill="none" stroke="#000" stroke-width="2.8" stroke-linejoin="round"/>
<polygon points="822.5,758 802,750.6 802,765" fill="#000"/>
<circle cx="186.9" cy="1035.6" r="5.5" fill="#DCEC28"/>
<text x="233.3" y="1047.9" font-size="34.5" textLength="207" lengthAdjust="spacing">Zn<tspan font-size="21" dy="12.8">0.88</tspan><tspan dy="-12.8">Fe</tspan><tspan font-size="21" dy="12.8">0.12</tspan><tspan dy="-12.8">O-C</tspan></text>
<circle cx="186.9" cy="1089.3" r="5.5" fill="#46A032"/>
<text x="233.3" y="1101.6" font-size="34.5" textLength="207" lengthAdjust="spacing">Zn<tspan font-size="21" dy="12.8">0.90</tspan><tspan dy="-12.8">Fe</tspan><tspan font-size="21" dy="12.8">0.10</tspan><tspan dy="-12.8">O-C</tspan></text>
<circle cx="187.0" cy="1142.8" r="5.5" fill="#14CCC8"/>
<text x="233.3" y="1155.1" font-size="34.5" textLength="207" lengthAdjust="spacing">Zn<tspan font-size="21" dy="12.8">0.92</tspan><tspan dy="-12.8">Fe</tspan><tspan font-size="21" dy="12.8">0.08</tspan><tspan dy="-12.8">O-C</tspan></text>
<circle cx="494.0" cy="1035.6" r="5.5" fill="#0F64B9"/>
<text x="538.8" y="1047.9" font-size="34.5" textLength="207" lengthAdjust="spacing">Zn<tspan font-size="21" dy="12.8">0.94</tspan><tspan dy="-12.8">Fe</tspan><tspan font-size="21" dy="12.8">0.06</tspan><tspan dy="-12.8">O-C</tspan></text>
<circle cx="494.0" cy="1089.0" r="5.5" fill="#B41E73"/>
<text x="538.8" y="1101.3" font-size="34.5" textLength="207" lengthAdjust="spacing">Zn<tspan font-size="21" dy="12.8">0.96</tspan><tspan dy="-12.8">Fe</tspan><tspan font-size="21" dy="12.8">0.04</tspan><tspan dy="-12.8">O-C</tspan></text>
<circle cx="494.0" cy="1142.2" r="5.5" fill="#F01E23"/>
<text x="538.8" y="1154.5" font-size="34.5" textLength="207" lengthAdjust="spacing">Zn<tspan font-size="21" dy="12.8">0.98</tspan><tspan dy="-12.8">Fe</tspan><tspan font-size="21" dy="12.8">0.02</tspan><tspan dy="-12.8">O-C</tspan></text>
</svg></body></html>
